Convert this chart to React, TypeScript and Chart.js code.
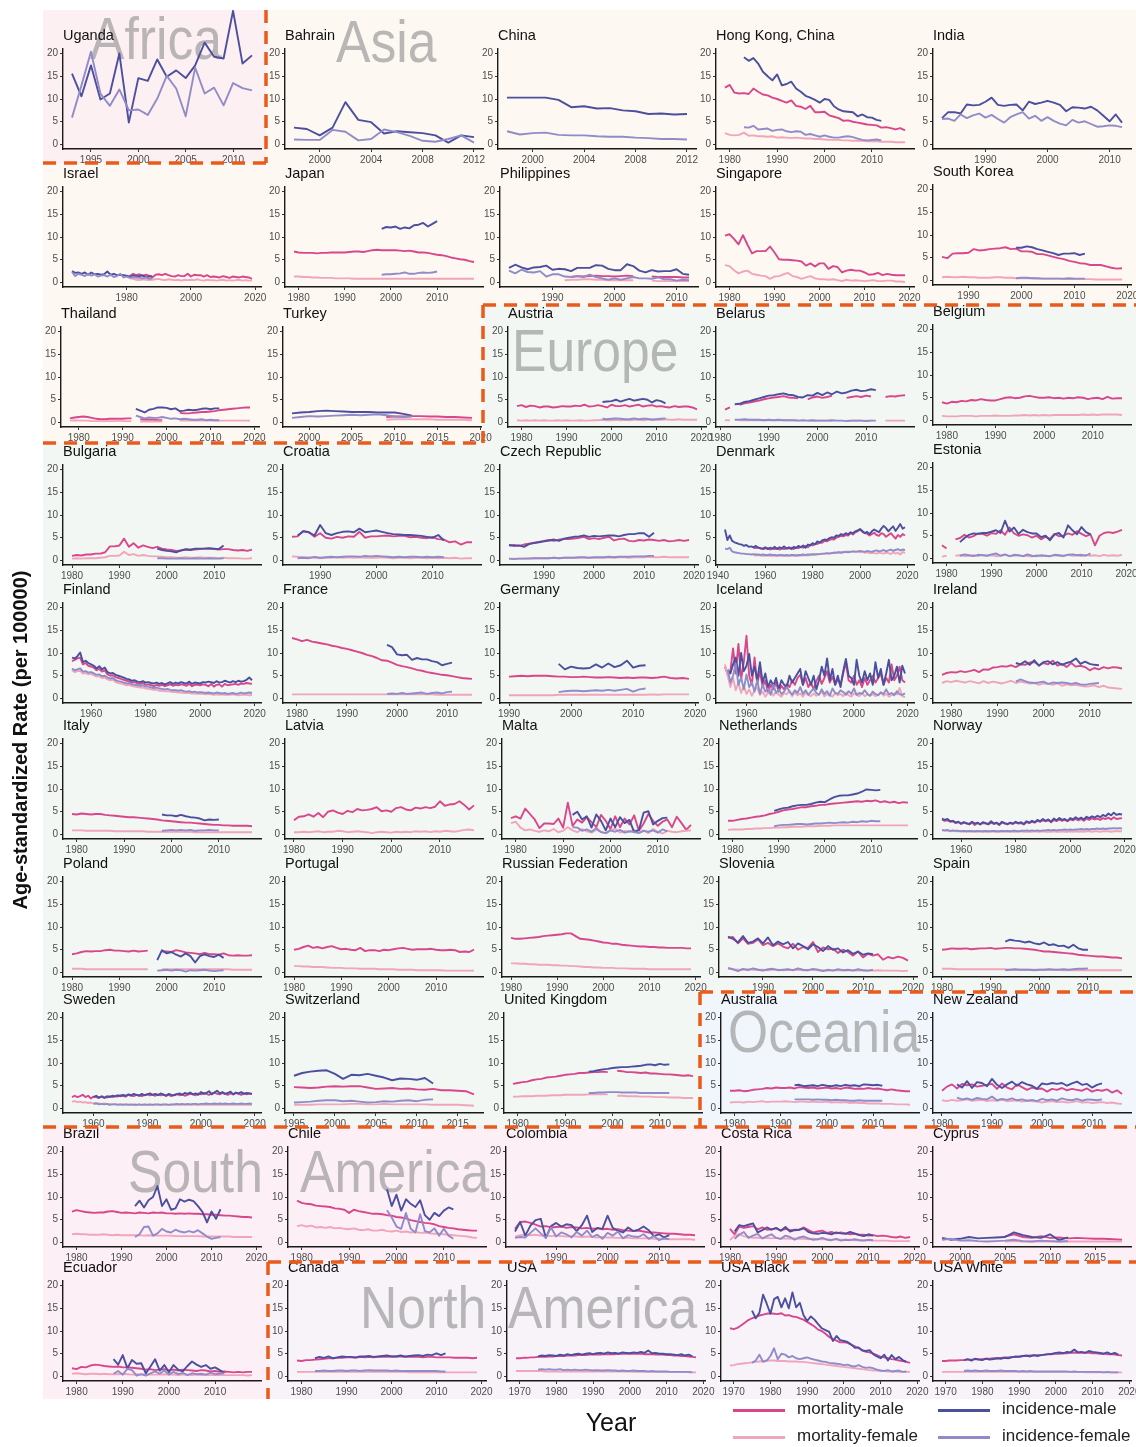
import React, { useEffect, useRef } from "react";
import { Chart, registerables } from "chart.js";

Chart.register(...registerables);

type Series = [number, (number | null)[]];

const FONT = "'Liberation Sans', Arial, Helvetica, sans-serif";
Chart.defaults.font.family = FONT;

// ---------- legend / series names ----------
const SERIES_NAMES = ["mortality-male", "mortality-female", "incidence-male", "incidence-female"];
const SERIES_COLORS = ["#d9478b", "#f0a5bb", "#4b4f9e", "#918cc8"];

// ---------- tick sets ----------
const Y_TICKS = [0, 5, 10, 15, 20];
const T_95_10 = [1995, 2000, 2005, 2010];
const T_00_12 = [2000, 2004, 2008, 2012];
const T_80_10 = [1980, 1990, 2000, 2010];
const T_80_20 = [1980, 1990, 2000, 2010, 2020];
const T_90_10 = [1990, 2000, 2010];
const T_90_20 = [1990, 2000, 2010, 2020];
const T_80_20_BY20 = [1980, 2000, 2020];
const T_60_20 = [1960, 1980, 2000, 2020];
const T_40_20 = [1940, 1960, 1980, 2000, 2020];
const T_00_20_BY5 = [2000, 2005, 2010, 2015, 2020];
const T_95_15 = [1995, 2000, 2005, 2010, 2015];
const T_00_15 = [2000, 2005, 2010, 2015];
const T_70_20 = [1970, 1980, 1990, 2000, 2010, 2020];

// ---------- data: [first year, values] ----------
// Africa
const UGANDA_IM: Series = [1993, [15.6, 10.6, 17.4, 9.9, 11.2, 20.0, 4.8, 14.6, 14.0, 18.7, 14.9, 16.3, 14.6, 17.4, 22.4, 19.3, 18.9, 29.4, 17.8, 19.6]];
const UGANDA_IF: Series = [1993, [5.9, 13.0, 20.4, 11.2, 8.5, 12.1, 7.5, 7.7, 6.5, 10.1, 15.1, 12.3, 6.2, 16.9, 11.2, 12.5, 8.6, 13.5, 12.4, 11.9]];
// Asia
const BAHRAIN_IM: Series = [1998, [3.7, 3.4, 2.0, 3.7, 9.3, 5.4, 4.9, 2.4, 2.9, 2.7, 2.5, 2.0, 0.4, 2.0, 1.6]];
const BAHRAIN_IF: Series = [1998, [1.1, 1.0, 1.0, 3.2, 2.8, 0.9, 1.2, 3.3, 2.7, 1.9, 0.8, 0.6, 1.2, 2.0, 0.4]];
const CHINA_IM: Series = [1998, [10.3, 10.3, 10.3, 10.3, 9.8, 8.2, 8.4, 7.9, 8.0, 7.5, 7.3, 6.7, 6.8, 6.6, 6.7]];
const CHINA_IF: Series = [1998, [2.9, 2.2, 2.5, 2.6, 2.1, 2.0, 2.0, 1.8, 1.7, 1.7, 1.5, 1.4, 1.2, 1.2, 1.1]];
const HK_MM: Series = [1979, [12.5, 13.1, 11.4, 11.2, 11.3, 11.1, 12.3, 11.6, 11.0, 10.8, 10.3, 10.0, 9.6, 9.2, 9.7, 8.5, 8.3, 7.8, 8.5, 7.1, 7.1, 7.2, 6.4, 6.1, 5.8, 5.2, 5.3, 5.0, 4.8, 4.6, 4.4, 4.3, 4.2, 3.7, 3.8, 3.6, 3.3, 3.6, 3.1]];
const HK_MF: Series = [1979, [2.5, 2.1, 2.0, 2.1, 2.6, 1.9, 2.0, 1.8, 1.8, 1.7, 1.8, 1.5, 1.6, 1.5, 1.4, 1.5, 1.4, 1.3, 1.3, 1.2, 1.2, 1.1, 1.0, 1.0, 1.0, 0.9, 0.9, 0.8, 0.8, 0.8, 0.7, 0.7, 0.7, 0.6, 0.6, 0.6, 0.5, 0.5, 0.5]];
const HK_IM: Series = [1983, [19.2, 18.4, 19.0, 17.8, 16.0, 15.0, 14.1, 15.4, 13.0, 13.3, 13.8, 12.3, 11.6, 10.7, 10.3, 9.8, 9.2, 10.0, 9.8, 8.4, 7.7, 7.3, 7.2, 7.1, 6.2, 6.6, 6.0, 5.9, 5.4, 5.2]];
const HK_IF: Series = [1983, [3.8, 3.7, 4.1, 3.3, 3.4, 3.5, 3.0, 3.2, 3.3, 2.9, 2.7, 2.9, 2.8, 2.1, 2.3, 2.0, 1.7, 2.0, 1.7, 1.5, 1.5, 1.7, 1.8, 1.6, 1.3, 1.0, 0.9, 1.0, 1.1, 0.9]];
const INDIA_IM: Series = [1983, [5.8, 7.1, 7.1, 6.8, 8.8, 8.6, 8.7, 9.4, 10.3, 8.7, 8.5, 8.7, 8.8, 7.5, 9.4, 8.9, 9.2, 9.6, 9.2, 8.7, 7.3, 8.2, 8.1, 7.9, 8.3, 7.5, 6.3, 5.1, 6.6, 4.8]];
const INDIA_IF: Series = [1983, [5.6, 5.7, 5.2, 6.6, 5.8, 6.4, 6.8, 5.9, 6.5, 5.6, 4.8, 6.0, 6.6, 7.1, 5.7, 6.3, 5.2, 6.0, 5.2, 4.6, 4.2, 5.4, 4.8, 5.1, 4.5, 3.9, 4.0, 4.2, 4.1, 3.8]];
const ISRAEL_MM: Series = [1981, [1.4, 1.9, 1.6, 1.8, 1.4, 1.7, 1.5, 1.1, 1.7, 1.8, 1.6, 1.9, 1.6, 1.4, 1.3, 1.6, 1.4, 1.4, 1.9, 1.3, 1.7, 1.6, 1.6, 1.3, 1.6, 1.2, 1.3, 1.2, 1.1, 1.4, 1.2, 1.0, 1.3, 1.2, 1.1, 1.3, 1.2, 1.1, 0.8]];
const ISRAEL_MF: Series = [1981, [0.9, 0.8, 0.6, 0.5, 0.7, 0.6, 0.5, 0.6, 0.7, 0.8, 0.6, 0.5, 0.7, 0.6, 0.5, 0.6, 0.4, 0.6, 0.5, 0.6, 0.5, 0.7, 0.5, 0.4, 0.6, 0.5, 0.5, 0.4, 0.5, 0.6, 0.4, 0.5, 0.4, 0.5, 0.6, 0.4, 0.5, 0.4, 0.4]];
const ISRAEL_IM: Series = [1963, [2.5, 2.1, 2.2, 1.9, 2.2, 1.7, 2.2, 1.8, 1.9, 1.7, 1.8, 2.4, 1.7, 1.9, 1.6, 1.7, 1.6, 1.5, 1.3, 1.5, 1.4, 1.4, 1.6, 1.1, 1.3, 1.4]];
const ISRAEL_IF: Series = [1963, [2.3, 1.4, 1.9, 1.7, 1.4, 1.9, 1.5, 1.8, 1.3, 1.5, 1.6, 1.3, 1.7, 1.2, 1.4, 1.9, 1.1, 1.3, 1.0, 1.2, 1.1, 1.0, 0.9, 1.1, 0.8, 0.9]];
const JAPAN_MM: Series = [1979, [6.8, 6.6, 6.5, 6.5, 6.5, 6.4, 6.5, 6.5, 6.6, 6.6, 6.6, 6.6, 6.7, 6.8, 6.8, 6.7, 6.9, 7.1, 7.2, 7.1, 7.1, 7.1, 7.1, 7.0, 6.9, 7.0, 6.8, 6.6, 6.6, 6.5, 6.3, 6.1, 6.0, 5.8, 5.5, 5.3, 5.1, 5.0, 4.7, 4.5]];
const JAPAN_MF: Series = [1979, [1.3, 1.3, 1.2, 1.2, 1.1, 1.1, 1.0, 1.0, 1.0, 0.9, 0.9, 0.9, 0.9, 0.8, 0.8, 0.8, 0.8, 0.8, 0.8, 0.8, 0.8, 0.8, 0.8, 0.8, 0.8, 0.8, 0.8, 0.8, 0.8, 0.8, 0.8, 0.8, 0.8, 0.8, 0.8, 0.8, 0.8, 0.8, 0.8, 0.8]];
const JAPAN_IM: Series = [1998, [11.8, 12.2, 12.1, 12.3, 11.8, 12.1, 11.9, 12.6, 12.7, 13.1, 12.3, 12.9, 13.5]];
const JAPAN_IF: Series = [1998, [1.7, 1.8, 1.8, 1.9, 2.0, 2.2, 1.9, 1.9, 2.1, 2.2, 2.1, 2.2, 2.4]];
const PHILIPPINES_MM: Series = [1993, [1.2, 1.4, 1.3, 1.4, 1.5, 1.4, 1.4, 1.3, 1.4, 1.5, 1.4, null, null, 1.3, 1.2, 1.2, 1.2, 1.2, 1.1, 1.1]];
const PHILIPPINES_MF: Series = [1992, [0.5, 0.6, 0.6, 0.7, 0.7, 0.6, 0.6, 0.5, 0.5, 0.5, 0.5, 0.5, null, null, 0.4, 0.3, 0.3, 0.3, 0.3, 0.3, 0.3]];
const PHILIPPINES_IM: Series = [1983, [3.2, 3.9, 3.3, 2.9, 3.3, 3.4, 3.7, 2.8, 3.0, 2.9, 2.5, 3.2, 3.2, 3.2, 3.8, 3.7, 3.0, 2.7, 2.7, 4.0, 3.6, 2.6, 2.2, 2.7, 2.4, 2.5, 2.5, 2.9, 1.9, 1.7]];
const PHILIPPINES_IF: Series = [1983, [2.6, 2.0, 2.8, 2.3, 2.2, 2.5, 1.3, 1.8, 1.8, 1.3, 1.2, 1.4, 1.2, 1.7, 1.2, 0.9, 0.6, 0.9, 0.6, 0.9, 1.2, 0.9, 0.9, 0.8, 1.1, 0.7, 0.7, 0.4, 0.6, 0.5]];
const SINGAPORE_MM: Series = [1979, [10.3, 10.6, 9.6, 8.4, 10.4, 8.3, 6.4, 6.9, 6.9, 6.9, 7.9, 6.6, 5.1, 5.0, 5.0, 4.9, 4.8, 4.6, 3.7, 4.2, 3.5, 4.2, 4.2, 3.0, 3.6, 3.4, 2.2, 2.6, 2.8, 2.6, 2.6, 2.2, 1.7, 1.8, 2.1, 1.6, 1.9, 1.7, 1.6, 1.6, 1.6]];
const SINGAPORE_MF: Series = [1979, [3.8, 3.6, 2.7, 2.0, 2.4, 2.6, 1.9, 1.7, 1.5, 1.4, 0.8, 1.3, 1.4, 1.8, 2.1, 1.4, 1.2, 0.8, 1.1, 1.4, 0.9, 0.7, 0.7, 0.6, 0.7, 0.5, 0.3, 0.6, 0.4, 0.5, 0.4, 0.3, 0.4, 0.5, 0.3, 0.3, 0.4, 0.4, 0.2, 0.2, 0.1]];
const SKOREA_MM: Series = [1985, [5.2, 4.9, 5.9, 6.0, 6.0, 6.1, 6.9, 6.6, 6.7, 6.9, 7.0, 7.1, 7.3, 6.9, 7.0, 6.4, 6.4, 6.3, 5.8, 5.8, 5.5, 5.2, 4.9, 4.7, 4.3, 4.1, 3.8, 3.7, 3.4, 3.4, 3.4, 3.1, 2.8, 2.6, 2.7]];
const SKOREA_MF: Series = [1985, [0.7, 0.8, 0.7, 0.7, 0.8, 0.7, 0.7, 0.6, 0.6, 0.6, 0.7, 0.7, 0.6, 0.6, 0.5, 0.5, 0.5, 0.5, 0.4, 0.4, 0.4, 0.4, 0.4, 0.3, 0.3, 0.3, 0.3, 0.3, 0.3, 0.2, 0.2, 0.2, 0.2, 0.2, 0.2]];
const SKOREA_IM: Series = [1999, [7.2, 7.2, 7.5, 7.3, 6.9, 6.6, 6.3, 6.0, 5.6, 5.9, 5.9, 6.0, 5.6, 5.9]];
const SKOREA_IF: Series = [1999, [0.5, 0.6, 0.6, 0.5, 0.5, 0.4, 0.4, 0.4, 0.4, 0.4, 0.5, 0.4, 0.4, 0.4]];
const THAILAND_MM: Series = [1978, [0.9, 1.1, 1.2, 1.3, 1.2, 1.0, 0.8, 0.7, 0.7, 0.8, 0.8, 0.8, 0.8, 0.9, 0.9, null, 0.7, 0.6, 0.6, 0.6, 0.5, 0.5, null, null, null, 2.1, 2.0, 2.0, 2.1, 2.2, 2.3, 2.3, 2.4, 2.5, 2.7, 2.8, 2.9, 3.0, 3.1, 3.2, 3.3, 3.3]];
const THAILAND_MF: Series = [1978, [0.4, 0.5, 0.4, 0.4, 0.4, 0.3, 0.3, 0.3, 0.3, 0.3, 0.3, 0.4, 0.3, 0.3, 0.3, null, 0.2, 0.2, 0.2, 0.2, 0.2, 0.2, null, null, null, 0.4, 0.4, 0.4, 0.4, 0.4, 0.4, 0.4, 0.4, 0.4, 0.4, 0.4, 0.4, 0.4, 0.4, 0.4, 0.4, 0.4]];
const THAILAND_IM: Series = [1993, [3.0, 2.6, 2.2, 2.8, 3.0, 3.3, 3.3, 3.2, 2.9, 3.1, 2.5, 2.6, 2.8, 2.7, 2.8, 3.0, 3.1, 2.9, 3.1, 3.1]];
const THAILAND_IF: Series = [1993, [1.5, 1.2, 0.9, 1.1, 1.0, 1.0, 1.2, 1.0, 0.8, 0.9, 0.7, 0.8, 0.7, 0.6, 0.6, 0.7, 0.5, 0.6, 0.5, 0.5]];
const TURKEY_MM: Series = [2009, [1.2, 1.3, 1.3, 1.4, 1.4, 1.3, 1.3, 1.2, 1.2, 1.1, 1.0]];
const TURKEY_MF: Series = [2009, [0.6, 0.7, 0.7, 0.7, 0.7, 0.7, 0.6, 0.6, 0.6, 0.6, 0.5]];
const TURKEY_IM: Series = [1998, [2.0, 2.2, 2.3, 2.5, 2.6, 2.5, 2.4, 2.3, 2.3, 2.3, 2.2, 2.2, 2.2, 1.9, 1.5]];
const TURKEY_IF: Series = [1998, [1.0, 1.2, 1.4, 1.3, 1.4, 1.5, 1.6, 1.7, 1.6, 1.7, 1.8, 1.6, 1.3, 1.2, 1.3]];
// Europe
const AUSTRIA_MM: Series = [1979, [3.6, 3.8, 3.4, 3.7, 3.6, 3.3, 3.5, 3.5, 3.3, 3.4, 3.6, 3.5, 3.5, 3.7, 3.6, 3.9, 3.5, 3.6, 3.8, 3.6, 3.3, 3.9, 3.6, 3.6, 3.8, 3.5, 3.7, 3.9, 3.5, 3.7, 3.8, 3.5, 3.6, 3.4, 3.3, 3.6, 3.4, 3.5, 3.5, 3.3, 2.9]];
const AUSTRIA_MF: Series = [1979, [0.5, 0.4, 0.5, 0.4, 0.5, 0.4, 0.5, 0.4, 0.4, 0.5, 0.4, 0.5, 0.4, 0.4, 0.5, 0.4, 0.4, 0.5, 0.5, 0.6, 0.5, 0.5, 0.6, 0.5, 0.6, 0.5, 0.6, 0.6, 0.5, 0.6, 0.7, 0.6, 0.6, 0.7, 0.6, 0.6, 0.7, 0.6, 0.6, 0.6, 0.6]];
const AUSTRIA_IM: Series = [1998, [4.5, 4.6, 4.7, 5.0, 4.6, 4.9, 5.2, 4.8, 5.0, 5.2, 5.0, 4.4, 4.9, 4.7, 4.2]];
const AUSTRIA_IF: Series = [1998, [0.8, 0.7, 0.8, 0.9, 0.8, 0.7, 0.7, 0.9, 0.7, 0.8, 0.8, 0.6, 0.7, 0.8, 0.9]];
const BELARUS_MM: Series = [1981, [2.8, 3.3, null, 3.9, 4.2, 4.4, 4.6, 4.8, 5.1, 5.3, 5.5, 5.6, 5.8, 5.5, 5.4, 5.3, null, 5.1, 5.5, 5.7, 5.4, 5.6, 5.9, null, null, 5.4, 5.6, 5.8, 5.6, 5.9, 5.7, null, null, 5.6, 5.8, 5.7, 5.9, 6.0]];
const BELARUS_MF: Series = [1981, [0.5, 0.5, null, 0.5, 0.5, 0.5, 0.5, 0.5, 0.5, 0.5, 0.5, 0.5, 0.5, 0.5, 0.5, 0.5, null, 0.4, 0.4, 0.4, 0.4, 0.4, 0.4, null, null, 0.4, 0.4, 0.4, 0.4, 0.4, 0.4, null, null, 0.4, 0.4, 0.4, 0.4, 0.4]];
const BELARUS_IM: Series = [1983, [4.0, 4.1, 4.5, 4.7, 5.0, 5.3, 5.6, 5.9, 6.0, 6.2, 6.4, 6.1, 6.0, 5.6, 5.5, 6.0, 5.9, 6.5, 6.0, 6.6, 6.2, 6.8, 6.4, 6.6, 7.0, 7.2, 6.9, 7.0, 7.3, 7.1]];
const BELARUS_IF: Series = [1983, [0.6, 0.6, 0.7, 0.6, 0.6, 0.6, 0.5, 0.6, 0.5, 0.6, 0.5, 0.5, 0.5, 0.4, 0.5, 0.4, 0.5, 0.4, 0.4, 0.4, 0.5, 0.4, 0.4, 0.3, 0.4, 0.4, 0.4, 0.3, 0.4, 0.4]];
const BELGIUM_MM: Series = [1979, [4.0, 3.7, 4.1, 4.0, 4.3, 4.2, 4.5, 4.4, 4.7, 4.5, 4.4, 4.4, 4.7, 5.0, 5.1, 4.9, 5.0, 5.3, 5.4, 5.2, 5.0, 5.0, 5.1, 4.9, 5.0, 4.8, 5.0, 4.9, 5.1, 5.0, 4.7, 4.9, 5.0, 4.7, 5.2, 4.8, 4.9, 4.9]];
const BELGIUM_MF: Series = [1979, [1.0, 0.9, 0.9, 0.9, 1.0, 1.0, 1.0, 0.9, 1.0, 1.0, 1.0, 1.1, 1.0, 1.0, 1.0, 1.1, 1.1, 1.2, 1.1, 1.2, 1.1, 1.2, 1.1, 1.2, 1.2, 1.2, 1.2, 1.2, 1.2, 1.3, 1.2, 1.3, 1.2, 1.3, 1.3, 1.3, 1.3, 1.2]];
const BULGARIA_MM: Series = [1980, [1.0, 1.2, 1.1, 1.3, 1.3, 1.5, 1.5, 1.8, 3.1, 3.1, 3.3, 4.8, 3.0, 3.8, 2.8, 3.3, 3.0, 2.7, 3.0, 2.6, 2.4, 2.3, 2.1, 2.2, 2.5, 2.4, 2.4, 2.5, 2.6, 2.6, 2.5, 2.4, 2.5, 2.5, 2.3, 2.2, 2.3, 2.1, 2.4]];
const BULGARIA_MF: Series = [1980, [0.4, 0.5, 0.4, 0.5, 0.5, 0.5, 0.6, 0.7, 1.0, 1.0, 1.1, 1.9, 1.2, 1.4, 1.0, 1.2, 1.0, 0.9, 0.9, 0.8, 0.7, 0.7, 0.6, 0.6, 0.7, 0.6, 0.6, 0.7, 0.6, 0.6, 0.6, 0.5, 0.6, 0.5, 0.5, 0.5, 0.4, 0.4, 0.5]];
const BULGARIA_IM: Series = [1998, [2.6, 2.3, 2.1, 2.0, 1.8, 2.2, 2.4, 2.3, 2.6, 2.6, 2.6, 2.7, 2.6, 2.5, 3.3]];
const BULGARIA_IF: Series = [1998, [0.5, 0.5, 0.4, 0.4, 0.4, 0.5, 0.4, 0.4, 0.5, 0.4, 0.4, 0.5, 0.4, 0.4, 0.5]];
const CROATIA_MM: Series = [1985, [5.2, 5.3, 6.5, 6.2, 5.2, 6.0, 5.0, 4.8, 5.2, 5.0, 5.3, 5.2, 6.3, 5.0, 5.3, 5.3, 5.4, 5.5, 5.3, 5.4, 5.4, 5.1, 5.2, 5.0, 4.9, 5.1, 4.7, 4.6, 4.0, 4.2, 3.5, 4.0, 4.0]];
const CROATIA_MF: Series = [1985, [0.9, 0.8, 0.7, 0.7, 0.6, 0.5, 0.6, 0.6, 0.7, 0.6, 0.7, 0.6, 0.7, 0.6, 0.6, 0.6, 0.7, 0.6, 0.5, 0.6, 0.6, 0.5, 0.6, 0.6, 0.5, 0.6, 0.5, 0.6, 0.5, 0.6, 0.4, 0.5, 0.5]];
const CROATIA_IM: Series = [1986, [5.5, 6.4, 6.2, 5.5, 7.8, 6.0, 5.6, 6.0, 6.3, 6.4, 6.2, 7.0, 6.2, 6.4, 6.6, 6.3, 6.0, 5.8, 5.7, 5.6, 5.6, 5.5, 5.4, 5.2, 5.0, 5.6, 4.4]];
const CROATIA_IF: Series = [1986, [0.5, 0.6, 0.5, 0.8, 0.6, 0.7, 0.8, 0.7, 0.8, 0.9, 0.9, 0.8, 1.0, 0.9, 1.0, 0.9, 0.8, 0.7, 0.8, 0.7, 0.8, 0.8, 0.7, 0.8, 0.7, 0.8, 0.7]];
const CZECH_MM: Series = [1983, [3.3, 3.4, 3.2, 3.5, 3.7, 3.9, 4.1, 4.3, 4.5, 4.3, 4.6, 4.7, 4.7, 4.8, 5.0, 5.2, 4.7, 4.9, 4.7, 5.0, 5.2, 4.4, 4.7, 4.8, 4.3, 4.2, 4.5, 4.4, 4.6, 4.5, 4.3, 4.5, 4.2, 4.3, 4.5, 4.3, 4.5]];
const CZECH_MF: Series = [1983, [0.4, 0.4, 0.4, 0.4, 0.5, 0.5, 0.5, 0.5, 0.5, 0.6, 0.5, 0.6, 0.6, 0.6, 0.6, 0.6, 0.6, 0.6, 0.6, 0.6, 0.7, 0.6, 0.7, 0.7, 0.6, 0.7, 0.7, 0.7, 0.8, 0.7, 0.7, 0.8, 0.7, 0.7, 0.7, 0.7, 0.7]];
const CZECH_IM: Series = [1983, [3.4, 3.2, 3.3, 3.0, 3.6, 3.8, 4.0, 4.2, 4.4, 4.6, 4.3, 4.8, 5.0, 5.2, 5.3, 5.5, 5.2, 5.4, 5.3, 5.4, 5.5, 5.5, 5.3, 5.6, 5.8, 5.8, 6.0, 6.0, 5.2, 6.1]];
const CZECH_IF: Series = [1983, [0.4, 0.3, 0.4, 0.4, 0.4, 0.5, 0.5, 0.5, 0.5, 0.6, 0.5, 0.6, 0.6, 0.6, 0.7, 0.7, 0.6, 0.7, 0.7, 0.7, 0.8, 0.7, 0.8, 0.8, 0.8, 0.9, 0.9, 0.9, 1.0, 1.0]];
const DENMARK_MM: Series = [1955, [2.8, 2.7, 2.9, 2.6, 2.5, 2.6, 2.7, 2.4, 2.6, 2.5, 2.7, 2.4, 2.6, 2.5, 2.7, 2.6, 2.8, 2.5, 2.9, 2.7, 3.0, 2.8, 3.2, 2.9, 3.5, 3.3, 3.7, 3.6, 4.0, 3.9, 4.3, 4.2, 4.5, 4.7, 4.6, 5.0, 5.2, 5.4, 5.3, 5.6, 5.5, 6.0, 5.7, 6.2, 6.4, 6.8, 6.3, 6.0, 5.9, 5.5, 5.8, 6.1, 5.6, 5.4, 6.0, 5.8, 5.2, 5.6, 6.0, 5.4, 4.8, 5.6, 5.2, 5.8, 5.5]];
const DENMARK_MF: Series = [1955, [1.2, 1.1, 1.2, 1.1, 1.0, 1.1, 1.0, 1.1, 1.0, 1.0, 1.1, 1.0, 1.0, 1.1, 1.0, 1.0, 1.1, 1.0, 1.1, 1.0, 1.1, 1.1, 1.2, 1.1, 1.2, 1.2, 1.3, 1.3, 1.4, 1.4, 1.5, 1.5, 1.6, 1.6, 1.7, 1.7, 1.8, 1.8, 1.9, 1.9, 2.0, 1.9, 2.0, 2.0, 1.9, 1.8, 1.9, 1.7, 1.8, 1.6, 1.7, 1.6, 1.5, 1.7, 1.6, 1.5, 1.7, 1.6, 1.4, 1.8, 1.5, 1.7, 1.3, 1.9, 1.6]];
const DENMARK_IM: Series = [1943, [6.8, 4.5, 5.5, 4.3, 4.0, 3.8, 3.6, 3.5, 3.2, 3.4, 3.0, 3.1, 2.9, 3.2, 2.8, 2.7, 2.6, 2.9, 2.5, 2.8, 2.6, 3.0, 2.5, 2.9, 2.7, 3.1, 2.6, 2.9, 2.5, 3.0, 2.7, 3.2, 2.9, 3.3, 2.8, 3.5, 3.3, 3.8, 3.5, 4.2, 3.9, 4.4, 4.6, 4.5, 4.9, 5.1, 5.0, 5.5, 5.4, 5.8, 5.6, 6.0, 5.7, 6.2, 6.0, 6.4, 6.6, 6.9, 6.5, 6.0, 6.3, 5.8, 6.4, 6.8, 6.5, 6.2, 7.0, 7.6, 7.1, 6.4, 7.0, 7.5, 6.5, 7.2, 8.0, 7.0, 7.3]];
const DENMARK_IF: Series = [1943, [2.6, 2.5, 2.8, 2.0, 1.8, 1.7, 1.6, 1.5, 1.5, 1.4, 1.4, 1.3, 1.4, 1.3, 1.3, 1.2, 1.3, 1.2, 1.2, 1.3, 1.2, 1.2, 1.1, 1.2, 1.2, 1.1, 1.2, 1.1, 1.2, 1.2, 1.1, 1.2, 1.2, 1.3, 1.2, 1.3, 1.3, 1.4, 1.3, 1.4, 1.4, 1.5, 1.5, 1.6, 1.5, 1.6, 1.7, 1.7, 1.8, 1.7, 1.8, 1.9, 1.8, 1.9, 2.0, 1.9, 2.0, 2.1, 2.0, 1.9, 2.1, 2.0, 1.9, 2.1, 2.2, 2.0, 2.1, 2.3, 2.0, 2.2, 2.4, 2.1, 2.3, 2.5, 2.2, 2.4, 2.3]];
const ESTONIA_MM: Series = [1979, [2.9, 2.2, null, 4.2, 4.5, 5.2, 4.6, 4.9, 5.5, 5.4, 5.0, 5.6, 5.4, 6.2, 5.2, 6.8, 5.5, 5.0, 5.3, 5.1, 4.6, 5.0, 4.2, 4.8, 4.3, 5.4, 4.9, 5.0, 5.5, 5.2, 6.0, 5.4, 4.9, 5.3, 2.9, 5.0, 5.6, 5.8, 5.6, 5.9, 6.3]];
const ESTONIA_MF: Series = [1979, [0.4, 0.6, null, 0.6, 0.7, 0.5, 0.6, 0.7, 0.5, 0.8, 0.6, 0.7, 0.5, 0.6, 0.8, 0.5, 0.6, 0.7, 0.5, 0.6, 0.4, 0.7, 0.5, 0.6, 0.5, 0.7, 0.6, 0.5, 0.8, 0.6, 0.7, 0.5, 0.8, 0.6, 0.7, 0.5, 0.8, 0.6, 0.7, 0.6, 0.8]];
const ESTONIA_IM: Series = [1983, [3.6, 4.5, 5.2, 5.5, 5.4, 5.6, 5.6, 5.9, 6.2, 5.6, 8.3, 5.9, 6.8, 5.4, 6.3, 5.8, 5.5, 5.5, 4.7, 5.0, 4.0, 5.3, 5.6, 4.6, 7.3, 6.2, 5.3, 6.9, 5.8, 5.3]];
const ESTONIA_IF: Series = [1983, [0.6, 0.9, 0.7, 0.5, 0.8, 0.7, 0.6, 0.9, 1.1, 0.6, 0.9, 0.5, 0.8, 0.7, 0.5, 0.9, 0.6, 0.5, 0.7, 0.6, 0.5, 0.8, 0.7, 0.6, 0.8, 0.9, 0.7, 0.8, 0.6, 1.1]];
const FINLAND_MM: Series = [1953, [8.2, 8.5, 8.8, 9.0, 7.5, 7.8, 7.2, 7.0, 6.8, 6.2, 6.5, 5.9, 6.2, 5.3, 5.0, 5.1, 4.7, 4.5, 4.3, 4.1, 3.9, 3.8, 3.5, 3.6, 3.3, 3.2, 3.4, 3.0, 3.1, 2.9, 2.7, 3.0, 2.8, 3.0, 2.7, 2.9, 3.1, 2.8, 3.0, 2.9, 3.1, 3.0, 2.8, 3.2, 2.7, 3.0, 3.0, 2.9, 3.1, 3.0, 2.7, 3.2, 2.6, 3.0, 3.1, 2.6, 3.2, 2.9, 3.0, 3.1, 3.2, 3.0, 3.3, 3.2, 3.4, 3.3, 3.2]];
const FINLAND_MF: Series = [1953, [6.2, 5.8, 6.0, 6.1, 5.5, 5.6, 5.3, 5.4, 5.1, 4.8, 4.9, 4.5, 4.6, 4.2, 4.0, 4.1, 3.6, 3.4, 3.3, 3.1, 2.9, 3.0, 2.7, 2.6, 2.5, 2.4, 2.4, 2.2, 2.1, 2.0, 1.9, 1.9, 1.7, 1.7, 1.6, 1.6, 1.5, 1.4, 1.4, 1.3, 1.3, 1.2, 1.2, 1.2, 1.1, 1.1, 1.0, 1.0, 1.0, 0.9, 1.0, 0.9, 0.8, 0.9, 0.8, 0.9, 0.8, 0.8, 0.8, 0.9, 0.8, 0.7, 0.8, 0.8, 0.8, 0.7, 0.8]];
const FINLAND_IM: Series = [1953, [9.0, 8.8, 9.3, 10.1, 8.0, 8.3, 7.8, 7.5, 7.2, 6.6, 7.1, 6.4, 6.8, 5.8, 5.5, 5.6, 5.2, 5.0, 4.8, 4.6, 4.3, 4.2, 3.9, 4.0, 3.7, 3.6, 3.8, 3.5, 3.6, 3.4, 3.3, 3.5, 3.2, 3.4, 3.1, 3.3, 3.6, 3.2, 3.5, 3.3, 3.6, 3.4, 3.3, 3.7, 3.2, 3.5, 3.4, 3.3, 3.6, 3.5, 3.7, 3.6, 3.4, 3.8, 3.5, 3.6, 3.9, 3.7, 3.5, 3.8, 3.6, 3.9, 3.7, 3.8, 4.1, 4.6, 4.0]];
const FINLAND_IF: Series = [1953, [6.6, 6.2, 6.4, 6.6, 5.9, 6.0, 5.7, 5.8, 5.5, 5.2, 5.3, 4.9, 5.0, 4.6, 4.4, 4.5, 4.0, 3.8, 3.7, 3.5, 3.3, 3.4, 3.1, 3.0, 2.9, 2.8, 2.9, 2.6, 2.6, 2.4, 2.3, 2.4, 2.2, 2.1, 2.0, 2.1, 1.9, 1.8, 1.8, 1.7, 1.8, 1.6, 1.5, 1.6, 1.4, 1.5, 1.3, 1.4, 1.3, 1.2, 1.3, 1.2, 1.1, 1.3, 1.2, 1.1, 1.2, 1.0, 1.1, 1.2, 1.0, 1.1, 1.3, 1.1, 1.2, 1.3, 1.2]];
const FRANCE_MM: Series = [1979, [13.3, 13.0, 12.6, 12.9, 12.5, 12.3, 12.1, 11.9, 11.6, 11.4, 11.1, 10.9, 10.6, 10.3, 10.0, 9.6, 9.3, 8.9, 8.4, 8.3, 7.9, 7.4, 7.1, 6.9, 6.6, 6.3, 6.1, 5.8, 5.6, 5.4, 5.2, 5.1, 4.9, 4.7, 4.5, 4.4, 4.3]];
const FRANCE_MF: Series = [1979, [0.9, 0.9, 0.9, 0.9, 0.9, 0.9, 0.9, 0.9, 0.9, 0.9, 0.9, 0.9, 0.9, 0.9, 0.9, 0.9, 0.9, 0.9, 0.9, 0.9, 0.9, 0.9, 0.9, 0.9, 0.9, 0.9, 0.9, 0.9, 0.9, 0.8, 0.8, 0.8, 0.8, 0.8, 0.8, 0.8, 0.8]];
const FRANCE_IM: Series = [1998, [11.8, 11.3, 9.7, 9.5, 9.6, 8.5, 8.9, 8.6, 8.6, 8.2, 8.0, 7.3, 7.6, 7.9]];
const FRANCE_IF: Series = [1998, [1.0, 1.1, 1.0, 1.2, 1.0, 1.1, 1.2, 1.3, 1.0, 1.2, 1.3, 1.1, 1.4, 1.5]];
const GERMANY_MM: Series = [1990, [4.8, 4.9, 5.0, 4.9, 5.0, 5.0, 5.0, 4.9, 4.8, 4.8, 4.7, 4.7, 4.8, 4.7, 4.6, 4.6, 4.7, 4.6, 4.5, 4.6, 4.5, 4.6, 4.6, 4.5, 4.6, 4.8, 4.5, 4.4, 4.5, 4.3]];
const GERMANY_MF: Series = [1990, [0.7, 0.7, 0.7, 0.7, 0.7, 0.7, 0.7, 0.7, 0.8, 0.8, 0.8, 0.8, 0.8, 0.8, 0.8, 0.8, 0.8, 0.8, 0.8, 0.8, 0.8, 0.8, 0.8, 0.9, 0.8, 0.9, 0.9, 0.9, 0.9, 0.9]];
const GERMANY_IM: Series = [1998, [7.6, 6.4, 7.0, 6.7, 6.6, 6.7, 7.5, 6.8, 7.7, 6.9, 7.3, 8.3, 6.8, 7.2, 7.3]];
const GERMANY_IF: Series = [1998, [1.4, 1.6, 1.7, 1.7, 1.6, 1.7, 1.8, 1.7, 1.9, 1.7, 1.9, 2.1, 1.5, 2.0, 2.2]];
const ICELAND_MM: Series = [1952, [7.0, 5.2, 6.0, 11.0, 5.5, 12.0, 4.2, 8.0, 13.8, 5.0, 3.0, 9.0, 3.2, 6.0, 2.5, 4.0, 1.2, 3.0, 2.0, 3.5, 1.5, 2.8, 2.0, 3.2, 2.5, 4.0, 3.0, 4.5, 5.2, 3.0, 4.5, 2.5, 3.5, 2.0, 3.8, 5.0, 3.2, 4.5, 6.0, 3.5, 4.8, 3.0, 4.2, 3.0, 5.5, 8.0, 4.0, 3.5, 5.0, 3.0, 4.0, 2.5, 4.5, 3.0, 4.0, 5.0, 3.5, 4.5, 5.5, 3.0, 4.5, 3.5, 7.5, 4.0, 5.0, 7.0, 4.0, 3.5]];
const ICELAND_MF: Series = [1952, [7.5, 5.0, 2.5, 4.5, 1.8, 3.5, 1.2, 2.8, 1.0, 2.0, 0.6, 1.8, 2.4, 0.8, 1.5, 0.4, 1.2, 2.0, 0.6, 1.4, 0.8, 0.4, 1.2, 0.9, 1.8, 0.5, 1.3, 0.7, 1.1, 0.4, 1.2, 0.8, 0.5, 1.1, 0.6, 0.9, 1.5, 0.5, 1.0, 0.7, 0.4, 1.2, 0.7, 1.0, 0.5, 1.3, 0.7, 0.4, 1.1, 0.8, 0.5, 1.2, 0.5, 0.9, 0.6, 1.0, 0.5, 0.8, 1.4, 0.6, 1.0, 0.4, 0.7, 1.1, 0.9, 2.3, 0.5, 0.3]];
const ICELAND_IM: Series = [1953, [6.3, 5.5, 7.5, 9.0, 5.0, 10.0, 6.0, 7.2, 9.8, 5.0, 7.0, 4.0, 8.0, 3.5, 5.5, 2.5, 4.0, 2.8, 4.5, 2.0, 4.0, 3.0, 2.5, 5.0, 3.5, 4.5, 5.5, 6.5, 3.0, 6.0, 4.5, 3.0, 5.0, 2.0, 4.0, 7.0, 5.0, 8.8, 4.0, 6.5, 3.0, 5.0, 2.5, 6.0, 8.7, 5.0, 4.5, 3.0, 8.5, 5.0, 3.5, 6.0, 4.0, 5.5, 3.0, 8.0, 4.5, 6.5, 3.0, 5.5, 8.5, 4.0, 5.0, 7.0, 3.5, 7.2, 5.5]];
const ICELAND_IF: Series = [1953, [6.3, 3.5, 5.0, 7.6, 3.0, 4.6, 2.0, 5.3, 2.5, 3.6, 1.5, 4.0, 1.0, 3.0, 1.5, 2.2, 0.8, 3.0, 1.2, 2.0, 1.0, 1.5, 2.5, 1.5, 0.8, 1.8, 1.2, 2.5, 1.0, 1.8, 0.8, 1.5, 2.2, 1.2, 0.8, 2.0, 1.0, 1.6, 0.6, 2.2, 1.2, 1.0, 1.8, 1.4, 0.8, 1.6, 1.0, 2.2, 0.8, 1.2, 1.0, 1.8, 1.0, 0.6, 1.5, 1.0, 0.7, 1.3, 1.0, 2.0, 0.9, 1.2, 0.7, 1.6, 0.9, 0.8, 1.1]];
const IRELAND_MM: Series = [1978, [5.2, 5.6, 5.8, 5.7, 6.0, 5.8, 6.0, 6.3, 5.8, 6.4, 6.3, 6.8, 6.9, 7.1, 7.0, 7.3, 6.9, 7.5, 7.4, 7.9, 8.0, 7.3, 7.8, 7.5, 8.3, 7.2, 7.6, 6.9, 7.8, 7.0, 7.2, 6.9, 6.2, 6.7, 6.4, 6.9, 6.6, 6.9, 6.8, 6.6]];
const IRELAND_MF: Series = [1978, [3.4, 3.8, 3.6, 3.9, 3.7, 3.5, 3.8, 3.6, 3.3, 3.8, 3.4, 3.7, 3.5, 3.3, 3.6, 3.9, 3.4, 3.7, 3.5, 3.3, 3.4, 3.0, 3.3, 3.2, 3.0, 3.3, 2.8, 3.1, 2.9, 3.0, 2.8, 2.6, 2.7, 2.9, 2.5, 2.8, 2.4, 2.3, 2.2, 2.1]];
const IRELAND_IM: Series = [1994, [7.8, 7.5, 8.2, 7.4, 8.4, 7.2, 8.0, 8.2, 7.5, 8.0, 7.4, 7.8, 8.1, 8.8, 7.6, 8.1, 7.6, 7.4, 7.3]];
const IRELAND_IF: Series = [1994, [3.7, 4.2, 3.8, 3.5, 3.4, 3.5, 3.7, 3.2, 3.5, 3.4, 3.5, 3.4, 3.2, 3.4, 3.1, 3.0, 3.2, 3.3, 3.4]];
const ITALY_MM: Series = [1979, [4.5, 4.4, 4.6, 4.5, 4.4, 4.5, 4.5, 4.3, 4.2, 4.1, 4.0, 3.9, 3.8, 3.8, 3.7, 3.6, 3.5, 3.4, 3.3, 3.1, 3.0, 2.9, 2.8, 2.7, 2.6, 2.6, 2.5, 2.4, 2.3, 2.2, 2.1, 2.1, 2.0, 2.0, 1.9, 1.9, 1.9, 1.9, 1.8]];
const ITALY_MF: Series = [1979, [0.9, 0.9, 0.9, 0.8, 0.8, 0.8, 0.8, 0.8, 0.8, 0.7, 0.7, 0.7, 0.7, 0.7, 0.7, 0.7, 0.6, 0.6, 0.6, 0.6, 0.6, 0.6, 0.6, 0.6, 0.6, 0.6, 0.5, 0.5, 0.5, 0.5, 0.5, 0.5, 0.5, 0.5, 0.5, 0.5, 0.5, 0.5, 0.5]];
const ITALY_IM: Series = [1998, [4.4, 4.2, 4.2, 4.0, 4.3, 4.0, 3.8, 3.7, 3.5, 3.1, 3.3, 3.2, 3.3]];
const ITALY_IF: Series = [1998, [0.8, 0.9, 1.0, 0.9, 1.0, 0.9, 1.0, 0.8, 0.9, 0.9, 1.0, 0.9, 0.9]];
const LATVIA_MM: Series = [1980, [3.1, 3.9, 4.0, 4.4, 3.9, 4.7, 3.8, 5.0, 5.3, 4.8, 4.5, 5.2, 4.9, 5.6, 5.3, 5.4, 5.6, 6.0, 5.1, 5.3, 5.0, 5.8, 6.0, 5.5, 5.3, 5.9, 5.7, 6.0, 5.8, 6.1, 7.3, 6.3, 6.6, 6.7, 7.3, 6.5, 5.5, 6.4]];
const LATVIA_MF: Series = [1980, [0.5, 0.5, 0.6, 0.5, 0.6, 0.7, 0.5, 0.6, 0.6, 0.8, 0.7, 0.5, 0.6, 0.7, 0.6, 0.5, 0.3, 0.5, 0.6, 0.5, 0.4, 0.6, 0.5, 0.6, 0.5, 0.7, 0.6, 0.7, 0.5, 0.7, 0.6, 0.8, 0.7, 0.6, 0.8, 1.0, 1.1, 0.9]];
const MALTA_MM: Series = [1979, [3.6, 4.0, 3.5, 5.7, 4.5, 3.3, 1.4, 2.4, 2.4, 2.3, 3.5, 1.5, 7.0, 1.9, 3.3, 2.6, 3.8, 2.7, 1.6, 4.3, 3.0, 1.2, 4.0, 1.6, 3.5, 2.2, 4.2, 0.8, 2.4, 4.5, 3.0, 1.9, 2.8, 3.3, 1.6, 3.9, 2.5, 1.0, 2.1]];
const MALTA_MF: Series = [1979, [2.5, 2.8, 1.5, 0.9, 1.1, 0.8, 0.6, 0.9, 0.7, 1.2, 0.5, 0.8, 1.6, 0.9, 0.5, 1.2, 0.7, 0.4, 1.0, 0.6, 0.3, 0.9, 1.3, 0.4, 0.8, 0.6, 1.0, 0.5, 0.9, 0.3, 1.2, 0.6, 0.2, 0.8, 0.6, 0.5, 0.7, 0.8, 0.9]];
const MALTA_IM: Series = [1992, [4.3, 5.0, 3.3, 4.0, 1.5, 4.4, 3.0, 0.9, 3.5, 1.6, 3.8, 2.5, 3.2, 0.5, 1.0, 4.8, 5.1, 2.2, 3.0, 3.6, 3.7]];
const MALTA_IF: Series = [1992, [1.6, 1.5, 0.8, 1.1, 0.6, 1.4, 0.5, 0.3, 0.9, 0.6, 1.0, 0.4, 0.7, 0.5, 0.3, 0.8, 0.6, 0.9, 0.4, 1.1, 0.7]];
const NETHERLANDS_MM: Series = [1979, [3.0, 3.0, 3.2, 3.4, 3.5, 3.7, 3.9, 4.0, 4.2, 4.5, 4.7, 5.0, 5.3, 5.5, 5.6, 5.8, 6.0, 6.0, 6.2, 6.3, 6.5, 6.5, 6.7, 6.8, 6.9, 7.0, 7.1, 7.2, 7.3, 7.2, 7.4, 7.3, 7.5, 7.1, 7.3, 7.0, 7.2, 6.9, 7.1, 7.0]];
const NETHERLANDS_MF: Series = [1979, [1.0, 1.1, 1.1, 1.1, 1.2, 1.2, 1.3, 1.3, 1.4, 1.4, 1.5, 1.5, 1.6, 1.6, 1.7, 1.7, 1.7, 1.8, 1.8, 1.8, 1.9, 1.9, 1.9, 2.0, 2.0, 2.0, 2.0, 2.0, 2.0, 2.0, 2.0, 2.0, 2.0, 2.0, 2.0, 2.0, 2.0, 2.0, 2.0, 2.0]];
const NETHERLANDS_IM: Series = [1989, [5.2, 5.5, 5.8, 5.9, 6.2, 6.4, 6.5, 6.5, 6.7, 7.0, 7.2, 7.1, 7.7, 8.2, 8.5, 8.6, 8.6, 8.8, 9.0, 9.4, 9.9, 9.8, 9.7, 9.8]];
const NETHERLANDS_IF: Series = [1989, [1.8, 2.0, 2.1, 2.1, 2.2, 2.3, 2.3, 2.2, 2.3, 2.4, 2.4, 2.5, 2.6, 2.5, 2.6, 2.7, 2.6, 2.8, 2.7, 2.9, 2.8, 3.0, 2.9, 2.9]];
const NORWAY_MM: Series = [1953, [3.2, 3.0, 3.1, 2.8, 2.9, 2.5, 2.7, 2.3, 2.6, 2.4, 2.2, 2.6, 2.1, 2.5, 2.3, 2.5, 2.4, 2.2, 2.6, 2.3, 2.5, 2.1, 2.6, 2.4, 2.2, 2.5, 2.3, 2.6, 2.4, 2.5, 2.2, 2.7, 2.5, 2.8, 2.6, 3.0, 2.8, 3.1, 2.9, 3.1, 2.7, 3.2, 2.9, 3.3, 3.0, 3.2, 2.9, 3.3, 3.1, 3.4, 3.1, 3.4, 3.0, 3.5, 3.2, 3.6, 3.3, 3.5, 3.2, 3.6, 3.4, 3.7, 3.3, 3.8, 3.4, 3.5, 3.6]];
const NORWAY_MF: Series = [1953, [0.9, 0.8, 0.8, 0.7, 0.8, 0.7, 0.7, 0.7, 0.6, 0.7, 0.6, 0.7, 0.6, 0.6, 0.7, 0.6, 0.6, 0.6, 0.7, 0.6, 0.6, 0.6, 0.6, 0.7, 0.6, 0.6, 0.6, 0.6, 0.6, 0.7, 0.6, 0.6, 0.6, 0.6, 0.7, 0.6, 0.6, 0.7, 0.6, 0.6, 0.6, 0.7, 0.6, 0.6, 0.7, 0.6, 0.6, 0.7, 0.6, 0.7, 0.6, 0.7, 0.6, 0.7, 0.7, 0.6, 0.7, 0.7, 0.6, 0.7, 0.7, 0.7, 0.6, 0.7, 0.7, 0.7, 0.7]];
const NORWAY_IM: Series = [1953, [3.5, 3.2, 3.4, 2.9, 3.0, 2.6, 2.8, 2.4, 2.7, 2.5, 2.3, 2.8, 2.4, 2.6, 2.2, 2.7, 2.5, 2.3, 2.9, 2.4, 2.6, 2.2, 2.8, 2.5, 2.3, 2.6, 2.4, 2.8, 2.5, 2.7, 2.3, 2.9, 2.6, 3.0, 2.7, 3.2, 2.9, 3.4, 3.0, 3.3, 2.8, 3.5, 3.1, 3.6, 3.2, 3.4, 3.0, 3.6, 3.3, 3.8, 3.4, 3.7, 3.3, 3.9, 3.6, 4.0, 3.7, 4.1, 3.8, 4.3, 4.0, 4.6, 4.2, 4.8, 4.3, 4.5, 4.4]];
const NORWAY_IF: Series = [1953, [1.0, 0.9, 1.0, 0.8, 0.9, 0.8, 0.8, 0.7, 0.8, 0.7, 0.8, 0.7, 0.7, 0.8, 0.7, 0.7, 0.8, 0.7, 0.7, 0.8, 0.7, 0.7, 0.8, 0.7, 0.8, 0.7, 0.8, 0.8, 0.7, 0.8, 0.8, 0.9, 0.8, 0.9, 0.8, 0.9, 0.8, 0.9, 0.9, 1.0, 0.9, 1.0, 0.9, 1.0, 1.0, 1.1, 1.0, 1.1, 1.0, 1.1, 1.1, 1.2, 1.1, 1.2, 1.1, 1.2, 1.2, 1.3, 1.2, 1.3, 1.2, 1.3, 1.3, 1.4, 1.3, 1.4, 1.3]];
const POLAND_MM: Series = [1980, [4.0, 4.2, 4.5, 4.7, 4.6, 4.7, 4.7, 4.9, 5.0, 4.8, 4.8, 4.7, 4.6, 4.8, 4.6, 4.7, 4.8, null, null, 4.6, 4.6, 4.5, 4.9, 4.7, 4.4, 4.3, 4.2, 4.0, 4.3, 4.0, 4.0, 3.9, 4.2, 3.8, 3.7, 3.8, 3.7, 3.7, 3.8]];
const POLAND_MF: Series = [1980, [0.8, 0.8, 0.8, 0.7, 0.7, 0.7, 0.7, 0.7, 0.7, 0.7, 0.7, 0.7, 0.7, 0.7, 0.7, 0.7, 0.7, null, null, 0.7, 0.7, 0.7, 0.7, 0.7, 0.7, 0.7, 0.7, 0.7, 0.7, 0.7, 0.7, 0.7, 0.7, 0.7, 0.6, 0.6, 0.6, 0.6, 0.6]];
const POLAND_IM: Series = [1998, [2.7, 4.9, 4.2, 4.5, 3.9, 3.5, 4.2, 3.6, 2.2, 3.6, 4.0, 3.6, 3.4, 3.9, 3.2]];
const POLAND_IF: Series = [1998, [0.4, 0.5, 0.6, 0.4, 0.6, 0.5, 0.2, 0.5, 0.4, 0.5, 0.6, 0.4, 0.3, 0.4, 0.5]];
const PORTUGAL_MM: Series = [1980, [5.0, 5.2, 5.6, 5.9, 5.4, 5.6, 5.3, 5.6, 5.8, 5.4, 5.1, 5.2, 5.0, 4.9, 5.4, 4.7, 4.9, 4.9, 4.7, 5.0, 4.9, 5.1, 5.3, 5.4, 5.2, 5.0, 5.1, 5.1, 5.1, 5.2, 5.0, 4.9, 4.9, 5.0, 4.9, 4.5, 4.6, 4.5, 5.0]];
const PORTUGAL_MF: Series = [1980, [1.4, 1.4, 1.3, 1.3, 1.2, 1.2, 1.2, 1.1, 1.0, 1.0, 1.0, 0.9, 0.9, 0.9, 0.8, 0.8, 0.8, 0.8, 0.7, 0.7, 0.7, 0.7, 0.6, 0.6, 0.6, 0.6, 0.5, 0.5, 0.5, 0.5, 0.5, 0.5, 0.4, 0.4, 0.4, 0.4, 0.4, 0.4, 0.4]];
const RUSSIA_MM: Series = [1980, [7.6, 7.4, 7.4, 7.5, 7.6, 7.7, 7.8, 8.0, 8.1, 8.2, 8.3, 8.4, 8.6, 8.6, 8.0, 7.4, 7.3, 7.2, 7.0, 6.8, 6.6, 6.5, 6.3, 6.3, 6.1, 6.0, 5.9, 5.8, 5.7, 5.7, 5.6, 5.6, 5.5, 5.5, 5.4, 5.4, 5.4, 5.4, 5.3, 5.3]];
const RUSSIA_MF: Series = [1980, [2.0, 2.0, 1.9, 1.9, 1.8, 1.8, 1.7, 1.7, 1.7, 1.6, 1.6, 1.5, 1.5, 1.4, 1.4, 1.3, 1.2, 1.2, 1.1, 1.1, 1.0, 1.0, 1.0, 0.9, 0.9, 0.9, 0.8, 0.8, 0.8, 0.8, 0.7, 0.7, 0.7, 0.7, 0.7, 0.7, 0.7, 0.7, 0.7, 0.7]];
const SLOVENIA_MM: Series = [1983, [7.6, 7.8, 6.4, 7.5, 6.3, 6.5, 7.3, 6.0, 6.5, 5.8, 6.4, 5.7, 5.3, 6.3, 5.0, 5.6, 5.4, 6.7, 4.5, 5.5, 5.1, 5.2, 4.3, 5.0, 4.5, 3.7, 4.6, 3.3, 4.1, 3.7, 4.0, 2.8, 3.4, 3.1, 3.5, 3.2, 2.6]];
const SLOVENIA_MF: Series = [1983, [0.8, 0.7, 0.6, 0.6, 0.7, 0.6, 0.6, 0.6, 0.5, 0.6, 0.6, 0.5, 0.6, 0.5, 0.6, 0.5, 0.5, 0.6, 0.5, 0.5, 0.4, 0.5, 0.5, 0.4, 0.5, 0.5, 0.4, 0.5, 0.4, 0.4, 0.5, 0.4, 0.4, 0.4, 0.4, 0.3, 0.4]];
const SLOVENIA_IM: Series = [1983, [7.9, 7.4, 6.6, 8.0, 6.5, 6.8, 7.5, 6.4, 7.7, 6.0, 6.8, 6.2, 6.7, 5.3, 6.4, 5.8, 5.1, 6.2, 5.6, 4.7, 5.8, 5.0, 5.3, 4.4, 4.9, 4.1, 4.6, 3.9, 4.2, 4.0]];
const SLOVENIA_IF: Series = [1983, [1.0, 0.7, 0.3, 0.8, 0.5, 0.9, 0.6, 0.4, 0.7, 0.8, 0.5, 0.6, 0.7, 0.5, 0.9, 0.6, 0.5, 0.8, 0.6, 0.3, 0.6, 0.4, 0.7, 0.5, 0.6, 0.4, 0.7, 0.5, 0.4, 0.6]];
const SPAIN_MM: Series = [1980, [5.0, 5.1, 5.3, 5.2, 5.2, 5.3, 5.1, 5.2, 5.3, 5.3, 5.4, 5.2, 5.3, 5.4, 5.4, 5.3, 5.3, 5.2, 5.1, 5.0, 4.8, 4.6, 4.6, 4.5, 4.4, 4.3, 4.2, 4.1, 3.9, 3.8, 3.7, 3.6, 3.5, 3.5, 3.4, 3.3, 3.3, 3.1]];
const SPAIN_MF: Series = [1980, [0.8, 0.8, 0.8, 0.7, 0.7, 0.7, 0.7, 0.7, 0.7, 0.7, 0.7, 0.7, 0.7, 0.7, 0.6, 0.6, 0.6, 0.6, 0.6, 0.6, 0.6, 0.6, 0.6, 0.6, 0.6, 0.5, 0.5, 0.5, 0.5, 0.5, 0.5, 0.5, 0.5, 0.5, 0.5, 0.5, 0.5, 0.5]];
const SPAIN_IM: Series = [1993, [6.8, 7.2, 7.0, 6.9, 6.6, 6.8, 6.4, 6.2, 6.6, 6.0, 6.2, 5.8, 5.9, 5.4, 6.1, 5.3, 5.0, 5.0]];
const SPAIN_IF: Series = [1993, [0.5, 0.6, 0.7, 0.6, 0.6, 0.6, 0.5, 0.6, 0.6, 0.7, 0.6, 0.6, 0.7, 0.6, 0.7, 0.8, 0.8, 0.9]];
const SWEDEN_MM: Series = [1952, [2.5, 2.8, 2.5, 2.7, 3.0, 2.5, 2.8, 2.2, 2.6, 2.5, 2.3, 2.7, 2.5, 2.4, 2.7, 2.5, 2.8, 2.6, 2.9, 2.7, 2.6, 3.0, 2.8, 2.7, 3.0, 2.9, 2.7, 3.0, 3.1, 2.9, 3.0, 2.8, 3.1, 2.9, 3.0, 2.8, 3.0, 2.7, 3.0, 3.2, 2.9, 3.1, 2.8, 3.0, 3.2, 3.1, 2.9, 3.3, 3.1, 3.4, 3.2, 3.0, 3.3, 3.5, 3.2, 3.1, 3.4, 3.2, 3.0, 3.3, 3.1, 3.4, 3.2, 3.0, 3.3, 3.1, 3.3, 3.2]];
const SWEDEN_MF: Series = [1952, [1.5, 1.6, 1.4, 1.5, 1.3, 1.4, 1.2, 1.3, 1.1, 1.2, 1.1, 1.0, 1.1, 1.0, 1.0, 0.9, 1.0, 0.9, 0.9, 0.9, 0.9, 0.9, 0.8, 0.9, 0.8, 0.9, 0.8, 0.8, 0.8, 0.8, 0.8, 0.8, 0.8, 0.8, 0.8, 0.8, 0.8, 0.8, 0.8, 0.8, 0.8, 0.8, 0.8, 0.8, 0.8, 0.8, 0.8, 0.8, 0.8, 0.8, 0.8, 0.8, 0.8, 0.8, 0.8, 0.8, 0.8, 0.8, 0.8, 0.8, 0.8, 0.8, 0.8, 0.8, 0.8, 0.8, 0.8, 0.8]];
const SWEDEN_IM: Series = [1960, [2.5, 2.8, 2.4, 2.6, 2.3, 2.7, 2.5, 2.8, 2.6, 2.9, 2.7, 3.0, 2.8, 3.1, 2.9, 3.2, 3.0, 2.8, 3.2, 2.9, 3.1, 3.3, 3.0, 3.2, 2.9, 3.3, 3.1, 2.8, 3.2, 3.0, 2.9, 3.1, 3.3, 3.0, 3.4, 3.2, 3.5, 3.1, 3.3, 3.0, 3.6, 3.2, 3.4, 3.8, 3.1, 3.5, 3.9, 3.3, 3.6, 3.2, 3.4, 3.7, 3.1, 3.5, 3.3, 3.6, 3.2, 3.4, 3.3, 3.2]];
const SWEDEN_IF: Series = [1960, [1.0, 1.1, 0.9, 1.0, 0.9, 1.0, 0.8, 0.9, 0.9, 0.8, 0.9, 0.8, 0.9, 0.8, 0.9, 0.8, 0.8, 0.9, 0.8, 0.9, 0.8, 0.9, 0.8, 0.9, 0.9, 0.8, 0.9, 0.9, 0.8, 0.9, 0.9, 1.0, 0.9, 1.0, 0.9, 1.0, 0.9, 1.0, 1.0, 0.9, 1.0, 1.0, 1.1, 1.0, 1.0, 1.1, 1.0, 1.1, 1.0, 1.1, 1.0, 1.0, 1.1, 1.0, 1.0, 1.1, 1.0, 1.0, 1.1, 1.0]];
const SWISS_MM: Series = [1995, [4.7, 4.6, 4.5, 4.6, 4.8, 4.9, 4.8, 4.9, 4.9, 4.6, 4.3, 4.4, 4.5, 4.3, 4.4, 4.2, 4.1, 4.3, 4.0, 4.0, 3.9, 3.8, 3.1]];
const SWISS_MF: Series = [1995, [0.8, 0.8, 0.8, 0.9, 0.9, 0.9, 0.9, 1.0, 1.0, 0.9, 0.9, 1.0, 0.9, 0.9, 0.9, 0.9, 0.9, 0.8, 0.8, 0.8, 0.8, 0.7, 0.6]];
const SWISS_IM: Series = [1995, [7.2, 7.8, 8.1, 8.3, 8.4, 7.6, 6.5, 7.4, 7.3, 7.6, 7.2, 6.8, 6.2, 6.6, 6.5, 6.3, 6.7, 5.5]];
const SWISS_IF: Series = [1995, [1.3, 1.4, 1.5, 1.7, 1.8, 1.8, 1.6, 1.7, 1.5, 1.3, 1.4, 1.6, 1.5, 1.7, 1.8, 1.6, 1.9, 2.0]];
const UK_MM: Series = [1979, [5.4, 5.6, 5.8, 5.9, 6.2, 6.4, 6.5, 6.8, 6.9, 7.0, 7.2, 7.4, 7.5, 7.6, 7.8, 7.8, 7.9, 8.0, 8.0, 8.1, 8.0, null, 8.3, 8.2, 8.0, 8.0, 7.9, 7.8, 7.9, 7.7, 7.7, 7.6, 7.5, 7.5, 7.4, 7.3, 7.2, 7.3, 7.1]];
const UK_MF: Series = [1979, [2.6, 2.6, 2.7, 2.7, 2.7, 2.8, 2.8, 2.8, 2.9, 2.9, 2.9, 3.0, 3.0, 3.0, 3.0, 3.0, 3.1, 3.1, 3.1, 3.1, 3.1, null, 2.8, 2.8, 2.7, 2.7, 2.7, 2.6, 2.6, 2.6, 2.5, 2.5, 2.5, 2.4, 2.4, 2.4, 2.3, 2.3, 2.3]];
const UK_IM: Series = [1995, [8.1, 8.2, 8.4, 8.6, 8.7, 8.9, 9.0, 9.1, 9.1, 9.2, 9.3, 9.4, 9.6, 9.7, 9.5, 9.8, 9.6, 9.7]];
const UK_IF: Series = [1995, [3.4, 3.4, 3.5, 3.5, 3.6, 3.6, 3.6, 3.5, 3.5, 3.5, 3.5, 3.4, 3.4, 3.4, 3.4, 3.4, 3.4, 3.4]];
// Oceania
const AUSTRALIA_MM: Series = [1979, [3.9, 3.9, 4.0, 3.8, 3.9, 4.1, 4.2, 4.3, 4.5, 4.4, 4.6, 4.5, 4.5, 4.6, 4.4, 4.7, 4.6, 4.5, 4.6, 4.4, 4.5, 4.6, 4.4, 4.5, 4.3, 4.6, 4.5, 4.3, 4.4, 4.3, 4.5, 4.3, 4.4, 4.2, 4.0, 4.2, 4.0, 3.9, 3.8, 3.8]];
const AUSTRALIA_MF: Series = [1979, [1.3, 1.4, 1.4, 1.3, 1.5, 1.4, 1.5, 1.6, 1.4, 1.5, 1.5, 1.5, 1.6, 1.5, 1.4, 1.5, 1.5, 1.4, 1.5, 1.4, 1.4, 1.5, 1.3, 1.4, 1.3, 1.4, 1.2, 1.3, 1.2, 1.2, 1.1, 1.1, 1.1, 1.0, 1.0, 1.0, 0.9, 0.9, 0.9, 0.8]];
const AUSTRALIA_IM: Series = [1993, [5.1, 5.2, 4.9, 5.0, 5.1, 4.9, 5.2, 5.0, 4.9, 5.1, 4.9, 5.2, 5.0, 5.1, 4.9, 5.3, 5.2, 5.1, 5.2, 5.0]];
const AUSTRALIA_IF: Series = [1993, [2.0, 2.0, 2.0, 2.0, 1.9, 2.0, 1.9, 1.9, 1.8, 1.9, 1.8, 1.8, 1.7, 1.7, 1.8, 1.7, 1.7, 1.7, 1.7, 1.7]];
const NZ_MM: Series = [1980, [3.9, 4.8, 5.3, 4.4, 5.4, 5.1, 5.3, 4.8, 5.0, 5.2, 5.4, 4.3, 5.5, 4.6, 4.2, 5.3, 4.7, 4.1, 4.6, 4.3, 4.4, 3.7, 4.3, 4.1, 4.5, 4.0, 4.3, 4.1, 3.9, 4.4, 3.7, 4.1, 3.9, 4.2, 3.5, 4.0, 3.2]];
const NZ_MF: Series = [1980, [1.8, 1.6, 1.9, 1.7, 1.8, 2.0, 1.7, 1.8, 1.9, 1.6, 1.8, 1.7, 1.9, 1.6, 1.7, 1.8, 1.5, 1.7, 1.6, 1.5, 1.3, 1.5, 1.6, 1.4, 1.5, 1.3, 1.4, 1.6, 1.3, 1.4, 1.2, 1.3, 1.4, 1.2, 1.3, 1.1, 1.0]];
const NZ_IM: Series = [1983, [5.3, 4.6, 6.0, 4.5, 5.8, 5.6, 4.9, 6.5, 5.2, 4.5, 5.3, 5.9, 5.0, 5.8, 5.3, 5.0, 4.3, 5.5, 5.3, 5.6, 5.4, 5.6, 5.0, 5.5, 5.9, 5.2, 5.4, 4.6, 5.2, 5.5]];
const NZ_IF: Series = [1983, [2.4, 2.0, 2.2, 1.9, 2.3, 2.1, 2.0, 2.6, 1.8, 2.1, 1.9, 2.2, 1.8, 2.0, 1.7, 1.9, 1.6, 2.1, 1.8, 2.0, 1.7, 2.2, 1.9, 1.8, 2.1, 1.7, 2.0, 1.9, 1.8, 2.0]];
// South America band
const BRAZIL_MM: Series = [1979, [6.8, 7.1, 6.9, 6.7, 6.6, 6.5, 6.6, 6.6, 6.8, 6.9, 6.7, 6.5, 6.6, 6.5, 6.4, 6.6, 6.5, 6.4, 6.6, 6.5, 6.6, 6.4, 6.4, 6.3, 6.4, 6.3, 6.4, 6.3, 6.3, 6.2, 6.2, 6.1, 6.1, 6.0, 5.9, 5.9, 5.8, 5.7, 5.6, 5.6, 5.5]];
const BRAZIL_MF: Series = [1979, [1.8, 1.9, 1.8, 1.8, 1.7, 1.7, 1.7, 1.8, 1.7, 1.6, 1.7, 1.6, 1.6, 1.6, 1.6, 1.6, 1.5, 1.6, 1.5, 1.5, 1.5, 1.5, 1.5, 1.4, 1.4, 1.4, 1.4, 1.4, 1.4, 1.3, 1.3, 1.3, 1.3, 1.3, 1.3, 1.3, 1.2, 1.2, 1.2, 1.2, 1.2]];
const BRAZIL_IM: Series = [1993, [8.0, 9.2, 7.7, 9.3, 10.0, 12.4, 8.0, 9.5, 7.2, 7.5, 9.5, 9.0, 9.4, 9.1, 8.0, 6.7, 4.4, 6.8, 5.2, 7.3]];
const BRAZIL_IF: Series = [1993, [1.2, 1.8, 3.4, 3.5, 1.5, 2.0, 3.0, 2.4, 2.2, 2.8, 2.4, 2.2, 2.5, 2.2, 2.7, 2.0, 1.3, 0.8, 1.0, 1.2]];
const CHILE_MM: Series = [1979, [9.2, 8.7, 8.5, 8.4, 8.1, 8.0, 7.9, 7.8, 7.5, 7.4, 7.2, 6.5, 7.2, 6.9, 6.7, 6.5, 6.3, 6.3, 6.2, 6.0, 5.9, 5.6, 5.5, 5.3, 4.9, 4.7, 4.5, 4.3, 4.2, 4.0, 3.6, 3.4, 3.2, 3.1, 2.9, 2.8, 2.7, 2.6, 2.6]];
const CHILE_MF: Series = [1979, [3.6, 3.8, 3.5, 3.7, 3.3, 3.4, 3.2, 3.4, 3.1, 3.2, 3.0, 2.9, 3.1, 2.8, 2.7, 2.9, 2.6, 2.6, 2.8, 2.5, 2.4, 2.6, 2.3, 2.4, 2.2, 2.3, 2.1, 2.2, 2.0, 1.9, 1.9, 1.8, 1.7, 1.6, 1.5, 1.4, 1.3, 1.1, 1.0]];
const CHILE_IM: Series = [1998, [11.7, 8.0, 10.5, 7.0, 9.5, 8.5, 7.8, 9.3, 6.0, 5.0, 6.5, 5.8, 7.0, 7.7, 7.3]];
const CHILE_IF: Series = [1998, [7.1, 5.5, 3.5, 3.0, 6.5, 3.0, 2.2, 6.2, 2.5, 2.2, 3.1, 1.5, 3.0, 1.5, 0.8]];
const COLOMBIA_MM: Series = [1982, [3.0, 4.5, 4.6, 4.3, 3.9, 3.5, 3.6, 3.3, 3.4, 3.5, 3.2, 3.4, 3.3, 3.1, 3.2, 3.0, 3.1, 2.9, 3.0, 2.8, 2.9, 2.7, 2.6, 2.5, 2.6, 2.4, 2.2, 2.2, 2.1, 2.0, 1.9, 1.9, 1.8, 1.7, 1.7, 1.6]];
const COLOMBIA_MF: Series = [1982, [1.3, 1.6, 1.7, 1.6, 1.7, 1.5, 1.5, 1.4, 1.5, 1.4, 1.3, 1.4, 1.3, 1.2, 1.3, 1.2, 1.1, 1.2, 1.1, 1.1, 1.0, 1.0, 1.0, 0.9, 0.9, 0.9, 0.9, 0.8, 0.8, 0.8, 0.7, 0.7, 0.7, 0.7, 0.7, 0.6]];
const COLOMBIA_IM: Series = [1982, [2.4, 4.5, 1.5, 3.7, 4.9, 5.2, 1.0, 3.6, 4.3, 3.5, 4.0, 3.8, 2.5, 3.8, 5.9, 2.3, 3.2, 3.0, 5.9, 3.2, 2.6, 2.2, 3.3, 2.5, 2.8, 3.5, 2.7, 1.4, 1.8, 1.1, 1.6]];
const COLOMBIA_IF: Series = [1982, [1.0, 1.2, 1.1, 2.1, 3.1, 2.0, 1.0, 3.3, 1.3, 2.2, 1.8, 1.1, 2.3, 1.5, 2.6, 1.2, 1.7, 0.8, 2.1, 1.5, 2.4, 0.9, 1.6, 1.3, 1.2, 1.8, 0.8, 1.4, 0.5, 0.9, 0.7]];
const COSTARICA_MM: Series = [1980, [3.0, 1.8, 3.5, 3.2, 3.4, 3.6, 2.9, 3.3, 2.8, 2.9, 3.1, 2.6, 3.0, 2.7, 2.8, 2.8, 3.3, 2.7, 2.2, 2.4, 2.6, 2.1, 2.3, 2.0, 2.2, 2.0, 1.8, 1.9, 1.7, 1.7, 1.5, 1.6, 1.4, 1.5, 1.4, 1.2, 1.1, 1.3, 1.0, 1.2]];
const COSTARICA_MF: Series = [1980, [0.5, 1.5, 1.8, 1.4, 1.2, 1.0, 1.1, 0.9, 1.0, 0.9, 1.0, 0.8, 0.9, 0.8, 0.9, 0.8, 0.8, 0.7, 0.8, 0.7, 0.7, 0.7, 0.6, 0.7, 0.6, 0.6, 0.6, 0.5, 0.5, 0.5, 0.5, 0.4, 0.4, 0.4, 0.4, 0.3, 0.3, 0.3, 0.3, 0.3]];
const COSTARICA_IM: Series = [1981, [2.4, 3.8, 3.6, 3.9, 4.2, 2.2, 2.7, 3.3, 2.8, 3.2, 2.6, 3.4, 2.4, 2.7, 2.8, 3.1, 2.3, 2.0, 1.9, 2.1, 2.0, 1.8, 2.2, 2.0, 1.9, 2.3, 2.0, 1.6, 1.4, 1.8, 1.5]];
const COSTARICA_IF: Series = [1981, [0.8, 1.7, 2.3, 1.0, 1.5, 1.9, 0.9, 1.4, 1.8, 1.0, 0.8, 1.5, 1.2, 0.6, 1.1, 1.3, 0.9, 0.6, 0.7, 1.0, 0.6, 0.5, 0.8, 0.4, 0.6, 0.5, 0.7, 0.5, 0.4, 0.6, 0.5]];
const CYPRUS_MM: Series = [2005, [1.3, 1.8, 1.2, 1.0, 1.4, 1.0, 1.1, 0.9, 1.0, 0.9, 0.8, 0.8, 0.7, 0.6]];
const CYPRUS_MF: Series = [2005, [0.2, 0.3, 0.2, 0.2, 0.2, 0.2, 0.2, 0.2, 0.2, 0.2, 0.2, 0.2, 0.2, 0.2]];
const CYPRUS_IM: Series = [1998, [1.0, 0.6, 0.8, 1.2, 0.9, 1.0, 1.1, 1.2, 2.2, 1.6, 1.2, 1.0, 1.8, 0.5, 1.1]];
const CYPRUS_IF: Series = [1998, [0.6, 0.8, 0.4, 0.5, 0.3, 0.2, 0.3, 0.4, 0.6, 0.3, 0.2, 0.4, 0.3, 0.2, 0.3]];
const ECUADOR_MM: Series = [1979, [1.8, 1.6, 2.1, 2.0, 2.4, 2.6, 2.5, 2.3, 2.2, 2.1, 2.2, 2.0, 2.0, 1.9, 1.8, 1.7, 1.5, 1.6, 1.4, 1.5, 1.6, 1.4, 1.5, 1.3, 1.5, 1.4, 1.3, 1.2, 1.4, 1.3, 1.1, 1.2, 1.0, 1.1, 1.0, 0.9, 1.0, 0.9, 1.0, 1.0]];
const ECUADOR_MF: Series = [1979, [0.6, 0.7, 0.6, 0.5, 0.6, 0.6, 0.5, 0.6, 0.5, 0.5, 0.5, 0.6, 0.5, 0.4, 0.5, 0.4, 0.5, 0.4, 0.4, 0.4, 0.5, 0.4, 0.4, 0.3, 0.4, 0.4, 0.3, 0.4, 0.3, 0.3, 0.3, 0.3, 0.3, 0.3, 0.3, 0.3, 0.3, 0.3, 0.2, 0.3]];
const ECUADOR_IM: Series = [1988, [3.8, 2.6, 4.7, 1.8, 3.6, 2.8, 2.9, 0.7, 2.2, 3.8, 1.3, 2.5, 0.9, 2.5, 1.5, 1.1, 2.3, 3.3, 2.6, 2.1, 2.5, 1.7, 2.0, 1.4, 0.8]];
const ECUADOR_IF: Series = [1988, [0.6, 1.2, 0.4, 1.7, 1.4, 0.2, 0.5, 0.2, 0.7, 1.1, 0.6, 1.3, 0.4, 1.0, 0.5, 0.8, 0.3, 0.7, 0.5, 0.6, 0.4, 0.8, 0.5, 0.6, 0.7]];
// North America
const CANADA_MM: Series = [1979, [3.5, 3.4, 3.6, 3.6, 3.7, 3.8, 3.9, 4.0, 4.0, 4.1, 4.1, 4.2, 4.2, 4.1, 4.3, 4.2, 4.3, 4.2, 4.3, 4.4, 4.3, 4.4, 4.4, 4.4, 4.3, 4.3, 4.3, 4.3, 4.2, 4.3, 4.3, 4.2, 4.2, 4.2, 4.2, 4.1, 4.1, 4.1, 4.1, 4.0, 4.1]];
const CANADA_MF: Series = [1979, [1.0, 1.0, 1.0, 1.0, 1.0, 1.0, 1.0, 1.0, 1.0, 1.0, 1.0, 1.0, 1.0, 1.0, 1.0, 1.0, 1.0, 1.0, 1.0, 1.0, 1.0, 1.0, 1.0, 1.0, 1.0, 0.9, 0.9, 0.9, 0.9, 0.9, 0.9, 0.9, 0.9, 0.9, 0.9, 0.9, 0.9, 0.9, 0.9, 0.9, 0.9]];
const CANADA_IM: Series = [1983, [4.0, 4.3, 4.1, 4.4, 4.0, 4.2, 4.4, 4.3, 4.3, 4.2, 4.4, 4.4, 4.5, 4.3, 4.4, 4.5, 4.6, 4.4, 4.4, 4.6, 4.4, 4.5, 4.6, 4.7, 4.5, 4.8, 4.7, 5.1, 4.7, 5.1]];
const CANADA_IF: Series = [1983, [1.2, 1.2, 1.3, 1.2, 1.2, 1.3, 1.3, 1.2, 1.3, 1.3, 1.2, 1.3, 1.4, 1.3, 1.3, 1.3, 1.3, 1.2, 1.3, 1.2, 1.2, 1.2, 1.2, 1.2, 1.2, 1.2, 1.2, 1.2, 1.1, 1.1]];
const USA_MM: Series = [1969, [4.0, 4.0, 4.1, 4.1, 4.2, 4.2, 4.3, 4.3, 4.3, 4.4, 4.4, 4.5, 4.5, 4.5, 4.6, 4.6, 4.6, 4.7, 4.7, 4.7, 4.8, 4.8, 4.8, 4.8, 4.9, 4.9, 4.9, 4.9, 5.0, 5.0, 5.0, 5.0, 5.0, 5.0, 5.0, 4.9, 4.9, 4.9, 4.8, 4.8, 4.8, 4.7, 4.7, 4.6, 4.6, 4.5, 4.5, 4.4, 4.3, 4.2]];
const USA_MF: Series = [1969, [1.2, 1.2, 1.2, 1.2, 1.2, 1.2, 1.2, 1.2, 1.1, 1.1, 1.1, 1.1, 1.1, 1.1, 1.1, 1.1, 1.1, 1.1, 1.1, 1.1, 1.1, 1.1, 1.1, 1.1, 1.1, 1.1, 1.1, 1.1, 1.1, 1.1, 1.1, 1.1, 1.0, 1.0, 1.0, 1.0, 1.0, 1.0, 1.0, 1.0, 1.0, 1.0, 1.0, 1.0, 1.0, 1.0, 1.0, 0.9, 0.9, 0.9]];
const USA_IM: Series = [1975, [4.4, 4.6, 4.5, 4.7, 4.6, 4.5, 4.8, 4.6, 4.9, 4.7, 4.9, 5.0, 4.8, 5.0, 5.1, 4.9, 5.1, 5.2, 5.0, 5.3, 5.1, 5.2, 5.0, 5.3, 5.2, 5.1, 5.3, 5.2, 5.4, 5.2, 5.7, 5.1, 5.2, 5.0, 5.0, 4.9, 4.9, 4.8, 4.7, 4.9, 4.6, 4.8, 4.4]];
const USA_IF: Series = [1975, [1.5, 1.6, 1.5, 1.6, 1.5, 1.5, 1.6, 1.4, 1.5, 1.4, 1.5, 1.4, 1.4, 1.5, 1.4, 1.3, 1.4, 1.3, 1.3, 1.4, 1.3, 1.3, 1.2, 1.3, 1.2, 1.2, 1.3, 1.2, 1.2, 1.2, 1.1, 1.2, 1.1, 1.1, 1.1, 1.1, 1.0, 1.0, 1.0, 1.0, 1.0, 1.0, 0.9]];
const USAB_MM: Series = [1969, [10.6, 10.4, 10.7, 11.2, 11.8, 12.4, 12.8, 13.1, 13.4, 13.6, 13.8, 13.9, 13.8, 13.7, 13.9, 13.4, 13.5, 13.2, 13.1, 12.8, 12.5, 12.0, 11.5, 11.0, 10.3, 10.0, 9.4, 8.7, 8.2, 7.9, 7.5, 7.5, 7.4, 7.0, 6.6, 6.2, 5.8, 5.4, 5.3, 5.0, 4.7, 4.3, 4.2, 4.0, 3.8, 3.7, 3.5, 3.4, 3.2, 3.0]];
const USAB_MF: Series = [1969, [2.4, 2.5, 2.7, 2.8, 2.9, 3.0, 3.1, 3.2, 3.3, 3.4, 3.5, 3.5, 3.5, 3.4, 3.4, 3.4, 3.3, 3.3, 3.3, 3.2, 3.2, 3.1, 3.0, 2.9, 2.8, 2.7, 2.6, 2.5, 2.4, 2.3, 2.2, 2.1, 2.0, 1.9, 1.8, 1.7, 1.6, 1.5, 1.4, 1.3, 1.3, 1.2, 1.2, 1.1, 1.1, 1.1, 1.0, 1.0, 1.0, 1.0]];
const USAB_IM: Series = [1975, [14.5, 12.8, 14.0, 18.0, 16.0, 13.8, 17.0, 17.5, 15.2, 17.2, 15.0, 18.5, 15.2, 16.2, 13.5, 12.2, 13.2, 12.5, 11.5, 10.6, 10.2, 9.8, 7.8, 8.9, 8.0, 7.8, 7.6, 7.0, 6.3, 6.4, 5.7, 5.6, 5.8, 4.9, 4.4, 4.0, 4.8, 3.5, 4.7, 3.8, 4.3, 3.6, 3.2]];
const USAB_IF: Series = [1975, [3.0, 3.5, 4.8, 3.2, 3.5, 4.5, 6.2, 3.8, 5.0, 4.8, 4.2, 4.5, 4.0, 3.8, 4.0, 4.2, 3.9, 3.7, 3.5, 3.3, 3.2, 3.0, 2.9, 2.8, 2.7, 2.5, 2.6, 2.3, 2.2, 2.5, 2.1, 1.9, 2.0, 1.8, 1.5, 1.3, 1.2, 1.4, 1.1, 1.2, 1.3, 1.0, 1.1]];
const USAW_MM: Series = [1969, [3.4, 3.4, 3.5, 3.5, 3.5, 3.6, 3.6, 3.7, 3.7, 3.8, 3.8, 3.8, 3.9, 3.9, 4.0, 4.0, 4.1, 4.2, 4.2, 4.3, 4.3, 4.4, 4.5, 4.5, 4.6, 4.6, 4.7, 4.7, 4.8, 4.9, 4.9, 5.0, 5.0, 5.1, 5.1, 5.2, 5.2, 5.2, 5.2, 5.2, 5.2, 5.1, 5.1, 5.0, 5.0, 4.9, 4.9, 4.8, 4.7, 4.6]];
const USAW_MF: Series = [1969, [1.0, 1.0, 1.0, 1.0, 1.0, 1.0, 1.0, 1.0, 1.0, 1.0, 1.0, 1.0, 1.0, 1.0, 1.0, 1.0, 1.0, 1.0, 1.0, 1.0, 1.0, 1.0, 1.0, 1.0, 1.0, 1.0, 1.0, 1.0, 1.0, 1.0, 1.0, 1.0, 1.0, 1.0, 1.0, 1.0, 1.0, 1.0, 1.0, 0.9, 0.9, 0.9, 0.9, 0.9, 0.9, 0.9, 0.9, 0.9, 0.9, 0.9]];
const USAW_IM: Series = [1975, [3.6, 3.8, 3.5, 3.9, 3.7, 3.6, 3.9, 3.7, 3.8, 4.0, 3.9, 4.1, 4.0, 4.2, 4.4, 4.3, 4.5, 4.6, 4.4, 4.7, 4.5, 4.7, 4.8, 4.9, 5.0, 5.2, 5.3, 5.1, 5.4, 5.3, 5.9, 5.3, 5.4, 5.2, 5.6, 5.4, 5.3, 5.2, 5.0, 5.3, 4.9, 5.2, 4.8]];
const USAW_IF: Series = [1975, [1.2, 1.3, 1.2, 1.3, 1.2, 1.2, 1.3, 1.2, 1.2, 1.2, 1.3, 1.2, 1.2, 1.2, 1.2, 1.1, 1.2, 1.1, 1.2, 1.1, 1.1, 1.1, 1.1, 1.1, 1.1, 1.1, 1.1, 1.1, 1.1, 1.0, 1.1, 1.0, 1.0, 1.0, 1.0, 1.0, 1.0, 1.0, 0.9, 1.0, 0.9, 0.9, 0.9]];

// ---------- layout ----------
const COL_X = [63, 285, 500, 716, 933];
const ROW_BOTTOM = [149, 287, 427, 565, 703, 839, 977, 1113, 1247, 1381];
const PLOT_W = 198;
const PLOT_H = 100;
const YW = 34;
const PT = 44;
const PR = 14;
const XH = 22;

type PanelDef = {
  name: string;
  row: number;
  col: number;
  series: (Series | null)[]; // [mortality-male, mortality-female, incidence-male, incidence-female]
  ticks: number[];
  dx?: number;
  dy?: number;
};

const PANELS: PanelDef[] = [
  { name: "Uganda", row: 0, col: 0, series: [null, null, UGANDA_IM, UGANDA_IF], ticks: T_95_10 },
  { name: "Bahrain", row: 0, col: 1, series: [null, null, BAHRAIN_IM, BAHRAIN_IF], ticks: T_00_12 },
  { name: "China", row: 0, col: 2, series: [null, null, CHINA_IM, CHINA_IF], ticks: T_00_12, dx: -2 },
  { name: "Hong Kong, China", row: 0, col: 3, series: [HK_MM, HK_MF, HK_IM, HK_IF], ticks: T_80_10 },
  { name: "India", row: 0, col: 4, series: [null, null, INDIA_IM, INDIA_IF], ticks: T_90_10 },
  { name: "Israel", row: 1, col: 0, series: [ISRAEL_MM, ISRAEL_MF, ISRAEL_IM, ISRAEL_IF], ticks: T_80_20_BY20 },
  { name: "Japan", row: 1, col: 1, series: [JAPAN_MM, JAPAN_MF, JAPAN_IM, JAPAN_IF], ticks: T_80_10 },
  { name: "Philippines", row: 1, col: 2, series: [PHILIPPINES_MM, PHILIPPINES_MF, PHILIPPINES_IM, PHILIPPINES_IF], ticks: T_90_10 },
  { name: "Singapore", row: 1, col: 3, series: [SINGAPORE_MM, SINGAPORE_MF, null, null], ticks: T_80_20 },
  { name: "South Korea", row: 1, col: 4, series: [SKOREA_MM, SKOREA_MF, SKOREA_IM, SKOREA_IF], ticks: T_90_20, dy: -2 },
  { name: "Thailand", row: 2, col: 0, series: [THAILAND_MM, THAILAND_MF, THAILAND_IM, THAILAND_IF], ticks: T_80_20, dx: -2 },
  { name: "Turkey", row: 2, col: 1, series: [TURKEY_MM, TURKEY_MF, TURKEY_IM, TURKEY_IF], ticks: T_00_20_BY5, dx: -2 },
  { name: "Austria", row: 2, col: 2, series: [AUSTRIA_MM, AUSTRIA_MF, AUSTRIA_IM, AUSTRIA_IF], ticks: T_80_20, dx: 8 },
  { name: "Belarus", row: 2, col: 3, series: [BELARUS_MM, BELARUS_MF, BELARUS_IM, BELARUS_IF], ticks: T_80_10 },
  { name: "Belgium", row: 2, col: 4, series: [BELGIUM_MM, BELGIUM_MF, null, null], ticks: T_80_10, dy: -2 },
  { name: "Bulgaria", row: 3, col: 0, series: [BULGARIA_MM, BULGARIA_MF, BULGARIA_IM, BULGARIA_IF], ticks: T_80_10 },
  { name: "Croatia", row: 3, col: 1, series: [CROATIA_MM, CROATIA_MF, CROATIA_IM, CROATIA_IF], ticks: T_90_10, dx: -2 },
  { name: "Czech Republic", row: 3, col: 2, series: [CZECH_MM, CZECH_MF, CZECH_IM, CZECH_IF], ticks: T_90_20 },
  { name: "Denmark", row: 3, col: 3, series: [DENMARK_MM, DENMARK_MF, DENMARK_IM, DENMARK_IF], ticks: T_40_20 },
  { name: "Estonia", row: 3, col: 4, series: [ESTONIA_MM, ESTONIA_MF, ESTONIA_IM, ESTONIA_IF], ticks: T_80_20, dy: -2 },
  { name: "Finland", row: 4, col: 0, series: [FINLAND_MM, FINLAND_MF, FINLAND_IM, FINLAND_IF], ticks: T_60_20 },
  { name: "France", row: 4, col: 1, series: [FRANCE_MM, FRANCE_MF, FRANCE_IM, FRANCE_IF], ticks: T_80_10, dx: -2 },
  { name: "Germany", row: 4, col: 2, series: [GERMANY_MM, GERMANY_MF, GERMANY_IM, GERMANY_IF], ticks: T_90_20 },
  { name: "Iceland", row: 4, col: 3, series: [ICELAND_MM, ICELAND_MF, ICELAND_IM, ICELAND_IF], ticks: T_60_20 },
  { name: "Ireland", row: 4, col: 4, series: [IRELAND_MM, IRELAND_MF, IRELAND_IM, IRELAND_IF], ticks: T_80_10 },
  { name: "Italy", row: 5, col: 0, series: [ITALY_MM, ITALY_MF, ITALY_IM, ITALY_IF], ticks: T_80_10 },
  { name: "Latvia", row: 5, col: 1, series: [LATVIA_MM, LATVIA_MF, null, null], ticks: T_80_10 },
  { name: "Malta", row: 5, col: 2, series: [MALTA_MM, MALTA_MF, MALTA_IM, MALTA_IF], ticks: T_80_10, dx: 2 },
  { name: "Netherlands", row: 5, col: 3, series: [NETHERLANDS_MM, NETHERLANDS_MF, NETHERLANDS_IM, NETHERLANDS_IF], ticks: T_80_10, dx: 3 },
  { name: "Norway", row: 5, col: 4, series: [NORWAY_MM, NORWAY_MF, NORWAY_IM, NORWAY_IF], ticks: T_60_20 },
  { name: "Poland", row: 6, col: 0, series: [POLAND_MM, POLAND_MF, POLAND_IM, POLAND_IF], ticks: T_80_10 },
  { name: "Portugal", row: 6, col: 1, series: [PORTUGAL_MM, PORTUGAL_MF, null, null], ticks: T_80_10 },
  { name: "Russian Federation", row: 6, col: 2, series: [RUSSIA_MM, RUSSIA_MF, null, null], ticks: T_80_20, dx: 2 },
  { name: "Slovenia", row: 6, col: 3, series: [SLOVENIA_MM, SLOVENIA_MF, SLOVENIA_IM, SLOVENIA_IF], ticks: T_90_20, dx: 3 },
  { name: "Spain", row: 6, col: 4, series: [SPAIN_MM, SPAIN_MF, SPAIN_IM, SPAIN_IF], ticks: T_80_10 },
  { name: "Sweden", row: 7, col: 0, series: [SWEDEN_MM, SWEDEN_MF, SWEDEN_IM, SWEDEN_IF], ticks: T_60_20 },
  { name: "Switzerland", row: 7, col: 1, series: [SWISS_MM, SWISS_MF, SWISS_IM, SWISS_IF], ticks: T_95_15 },
  { name: "United Kingdom", row: 7, col: 2, series: [UK_MM, UK_MF, UK_IM, UK_IF], ticks: T_80_10, dx: 4 },
  { name: "Australia", row: 7, col: 3, series: [AUSTRALIA_MM, AUSTRALIA_MF, AUSTRALIA_IM, AUSTRALIA_IF], ticks: T_80_10, dx: 5 },
  { name: "New Zealand", row: 7, col: 4, series: [NZ_MM, NZ_MF, NZ_IM, NZ_IF], ticks: T_80_10 },
  { name: "Brazil", row: 8, col: 0, series: [BRAZIL_MM, BRAZIL_MF, BRAZIL_IM, BRAZIL_IF], ticks: T_80_20 },
  { name: "Chile", row: 8, col: 1, series: [CHILE_MM, CHILE_MF, CHILE_IM, CHILE_IF], ticks: T_80_10, dx: 3 },
  { name: "Colombia", row: 8, col: 2, series: [COLOMBIA_MM, COLOMBIA_MF, COLOMBIA_IM, COLOMBIA_IF], ticks: T_90_10, dx: 6 },
  { name: "Costa Rica", row: 8, col: 3, series: [COSTARICA_MM, COSTARICA_MF, COSTARICA_IM, COSTARICA_IF], ticks: T_80_20, dx: 5 },
  { name: "Cyprus", row: 8, col: 4, series: [CYPRUS_MM, CYPRUS_MF, CYPRUS_IM, CYPRUS_IF], ticks: T_00_15 },
  { name: "Ecuador", row: 9, col: 0, series: [ECUADOR_MM, ECUADOR_MF, ECUADOR_IM, ECUADOR_IF], ticks: T_80_10 },
  { name: "Canada", row: 9, col: 1, series: [CANADA_MM, CANADA_MF, CANADA_IM, CANADA_IF], ticks: T_80_20, dx: 3 },
  { name: "USA", row: 9, col: 2, series: [USA_MM, USA_MF, USA_IM, USA_IF], ticks: T_70_20, dx: 7 },
  { name: "USA Black", row: 9, col: 3, series: [USAB_MM, USAB_MF, USAB_IM, USAB_IF], ticks: T_70_20, dx: 5 },
  { name: "USA White", row: 9, col: 4, series: [USAW_MM, USAW_MF, USAW_IM, USAW_IF], ticks: T_70_20 },
];

// ---------- region decoration ----------
const BG = {
  africa: "#fdf0f3",
  asia: "#fdf8f2",
  europe: "#f2f7f3",
  oceania: "#f0f6fb",
  samerica: "#fcf0f6",
  namerica: "#f7f3f9",
};

const BG_RECTS: [number, number, number, number, string][] = [
  [43, 10, 266, 163, BG.africa],
  [266, 10, 1136, 305, BG.asia],
  [43, 163, 266, 305, BG.asia],
  [43, 305, 483, 443, BG.asia],
  [483, 305, 1136, 443, BG.europe],
  [43, 443, 1136, 992, BG.europe],
  [43, 992, 700, 1127, BG.europe],
  [700, 992, 1136, 1127, BG.oceania],
  [43, 1127, 1136, 1262, BG.samerica],
  [43, 1262, 268, 1399, BG.samerica],
  [268, 1262, 1136, 1399, BG.namerica],
];

const REGION_LABELS: [string, number, number][] = [
  ["Africa", 90, 57],
  ["Asia", 336, 60],
  ["Europe", 512, 369],
  ["Oceania", 728, 1050],
  ["South", 128, 1190],
  ["America", 300, 1190],
  ["North", 360, 1326],
  ["America", 508, 1326],
];

const DASH_LINES: [number, number, number, number][] = [
  [266, 10, 266, 163],
  [43, 163, 266, 163],
  [43, 443, 483, 443],
  [483, 305, 483, 443],
  [483, 305, 1136, 305],
  [700, 992, 700, 1127],
  [700, 992, 1136, 992],
  [43, 1127, 1136, 1127],
  [268, 1262, 1136, 1262],
  [268, 1262, 268, 1399],
];

function xRange(list: (Series | null)[]): [number, number] {
  let lo = Infinity;
  let hi = -Infinity;
  for (const s of list) {
    if (!s) continue;
    lo = Math.min(lo, s[0]);
    hi = Math.max(hi, s[0] + s[1].length - 1);
  }
  const pad = (hi - lo) * 0.05;
  return [lo - pad, hi + pad];
}

function Panel({ def }: { def: PanelDef }) {
  const ref = useRef<HTMLCanvasElement | null>(null);
  const axisX = COL_X[def.col] + (def.dx || 0);
  const plotBottom = ROW_BOTTOM[def.row] + (def.dy || 0);
  const plotTop = plotBottom - PLOT_H;
  const W = YW + PLOT_W + PR;
  const H = PT + PLOT_H + XH;

  useEffect(() => {
    if (!ref.current) return;
    const [xmin, xmax] = xRange(def.series);
    const datasets: any[] = [];
    // incidence drawn above mortality (first dataset is painted last)
    for (const k of [3, 2, 1, 0]) {
      const s = def.series[k];
      if (!s) continue;
      datasets.push({
        label: SERIES_NAMES[k],
        data: s[1].map((v, i) => ({ x: s[0] + i, y: v })),
        borderColor: SERIES_COLORS[k],
        backgroundColor: SERIES_COLORS[k],
        borderWidth: 1.9,
        pointRadius: 0,
        spanGaps: false,
        tension: 0,
        clip: false,
        fill: false,
        borderJoinStyle: "round",
        borderCapStyle: "butt",
      });
    }
    const tickFont = { size: 10, family: FONT };
    const chart = new Chart(ref.current, {
      type: "line",
      data: { datasets },
      options: {
        animation: false,
        responsive: false,
        devicePixelRatio: 1,
        events: [],
        layout: { padding: { top: PT, right: PR, left: 0, bottom: 0 } },
        plugins: { legend: { display: false }, tooltip: { enabled: false }, title: { display: false } },
        scales: {
          x: {
            type: "linear",
            min: xmin,
            max: xmax,
            afterFit: (s: any) => {
              s.height = XH;
            },
            afterBuildTicks: (s: any) => {
              s.ticks = def.ticks.map((v) => ({ value: v }));
            },
            ticks: {
              autoSkip: false,
              maxRotation: 0,
              minRotation: 0,
              padding: 2,
              color: "#4d4d4d",
              font: tickFont,
              callback: (v: any) => String(v),
            },
            grid: { drawOnChartArea: false, drawTicks: true, tickLength: 3, color: "#333333", lineWidth: 1 },
            border: { display: true, color: "#1a1a1a", width: 1.4 },
          },
          y: {
            type: "linear",
            min: -1,
            max: 21,
            afterFit: (s: any) => {
              s.width = YW;
            },
            afterBuildTicks: (s: any) => {
              s.ticks = Y_TICKS.map((v) => ({ value: v }));
            },
            ticks: { padding: 2, color: "#4d4d4d", font: tickFont, callback: (v: any) => String(v) },
            grid: { drawOnChartArea: false, drawTicks: true, tickLength: 3, color: "#333333", lineWidth: 1 },
            border: { display: true, color: "#1a1a1a", width: 1.4 },
          },
        },
      } as any,
    });
    return () => chart.destroy();
  }, []);

  return (
    <>
      <canvas
        ref={ref}
        width={W}
        height={H}
        style={{ position: "absolute", left: axisX - YW, top: plotTop - PT, width: W, height: H, display: "block" }}
      />
      <div
        style={{
          position: "absolute",
          left: axisX,
          top: plotTop - 22,
          fontSize: 14.5,
          lineHeight: "16px",
          color: "#111",
          whiteSpace: "nowrap",
          fontFamily: FONT,
        }}
      >
        {def.name}
      </div>
    </>
  );
}

export default function App() {
  return (
    <div
      style={{
        position: "absolute",
        left: 0,
        top: 0,
        width: 1136,
        height: 1447,
        overflow: "hidden",
        background: "#ffffff",
        fontFamily: FONT,
      }}
    >
      {BG_RECTS.map(([x0, y0, x1, y1, c], i) => (
        <div key={"bg" + i} style={{ position: "absolute", left: x0, top: y0, width: x1 - x0, height: y1 - y0, background: c }} />
      ))}
      {REGION_LABELS.map(([t, x, base], i) => (
        <div
          key={"rl" + i}
          style={{
            position: "absolute",
            left: x,
            top: base - 48,
            fontSize: 60,
            lineHeight: "60px",
            color: "rgba(140,140,140,0.6)",
            whiteSpace: "nowrap",
            transform: "scaleX(0.86)",
            transformOrigin: "left top",
            fontFamily: FONT,
          }}
        >
          {t}
        </div>
      ))}
      {PANELS.map((p) => (
        <Panel key={p.name} def={p} />
      ))}
      <svg width={1136} height={1447} style={{ position: "absolute", left: 0, top: 0, pointerEvents: "none" }}>
        {DASH_LINES.map(([x1, y1, x2, y2], i) => (
          <line key={"dl" + i} x1={x1} y1={y1} x2={x2} y2={y2} stroke="#ea5a1b" strokeWidth={3.5} strokeDasharray="13 8" />
        ))}
      </svg>
      <div
        style={{
          position: "absolute",
          left: 20,
          top: 740,
          transform: "translate(-50%, -50%) rotate(-90deg)",
          fontSize: 20,
          fontWeight: "bold",
          whiteSpace: "nowrap",
          color: "#111",
        }}
      >
        Age-standardized Rate (per 100000)
      </div>
      <div
        style={{
          position: "absolute",
          left: 611,
          top: 1422,
          transform: "translate(-50%, -50%)",
          fontSize: 25,
          whiteSpace: "nowrap",
          color: "#111",
        }}
      >
        Year
      </div>
      {[0, 1, 2, 3].map((k) => {
        const colX = k < 2 ? 733 : 938;
        const y = k % 2 === 0 ? 1410 : 1437;
        return (
          <React.Fragment key={"lg" + k}>
            <div style={{ position: "absolute", left: colX, top: y - 1.5, width: 52, height: 3, background: SERIES_COLORS[k] }} />
            <div
              style={{
                position: "absolute",
                left: colX + 64,
                top: y - 11,
                fontSize: 17,
                lineHeight: "20px",
                color: "#222",
                whiteSpace: "nowrap",
              }}
            >
              {SERIES_NAMES[k]}
            </div>
          </React.Fragment>
        );
      })}
    </div>
  );
}
